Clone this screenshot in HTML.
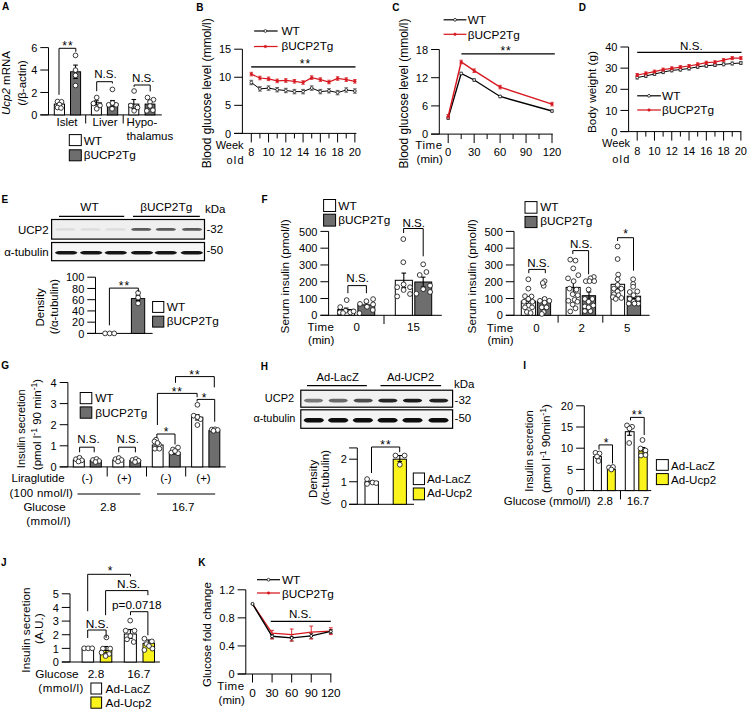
<!DOCTYPE html>
<html><head><meta charset="utf-8"><style>
html,body{margin:0;padding:0;background:#fff;}
svg{display:block;}
text{font-family:"Liberation Sans",sans-serif;}
</style></head><body>
<svg width="748" height="710" viewBox="0 0 748 710">
<defs><filter id="bl" x="-20%" y="-100%" width="140%" height="300%"><feGaussianBlur stdDeviation="0.7"/></filter></defs>
<rect x="0" y="0" width="748" height="710" fill="#fff"/>
<text x="1.90" y="9.90" font-size="10" text-anchor="start" font-weight="bold" fill="#000">A</text>
<line x1="48.50" y1="47.60" x2="48.50" y2="114.90" stroke="#000" stroke-width="1.0" />
<line x1="40.30" y1="47.60" x2="48.50" y2="47.60" stroke="#000" stroke-width="1.0" />
<text x="37.30" y="51.76" font-size="11.0" text-anchor="end" font-weight="normal" fill="#000">6</text>
<line x1="40.30" y1="70.03" x2="48.50" y2="70.03" stroke="#000" stroke-width="1.0" />
<text x="37.30" y="74.19" font-size="11.0" text-anchor="end" font-weight="normal" fill="#000">4</text>
<line x1="40.30" y1="92.47" x2="48.50" y2="92.47" stroke="#000" stroke-width="1.0" />
<text x="37.30" y="96.63" font-size="11.0" text-anchor="end" font-weight="normal" fill="#000">2</text>
<line x1="40.30" y1="114.90" x2="48.50" y2="114.90" stroke="#000" stroke-width="1.0" />
<text x="37.30" y="119.06" font-size="11.0" text-anchor="end" font-weight="normal" fill="#000">0</text>
<line x1="40.30" y1="114.90" x2="161.80" y2="114.90" stroke="#000" stroke-width="1.0" />
<line x1="85.70" y1="114.90" x2="85.70" y2="123.50" stroke="#000" stroke-width="1.0" />
<line x1="123.20" y1="114.90" x2="123.20" y2="123.50" stroke="#000" stroke-width="1.0" />
<rect x="54.30" y="104.10" width="10.20" height="10.80" fill="#fff" stroke="#000" stroke-width="1.0"/>
<rect x="70.50" y="71.80" width="10.10" height="43.10" fill="#6e6e6e" stroke="#000" stroke-width="1.0"/>
<rect x="91.40" y="102.80" width="10.00" height="12.10" fill="#fff" stroke="#000" stroke-width="1.0"/>
<rect x="107.40" y="103.50" width="10.30" height="11.40" fill="#6e6e6e" stroke="#000" stroke-width="1.0"/>
<rect x="128.80" y="104.10" width="10.00" height="10.80" fill="#fff" stroke="#000" stroke-width="1.0"/>
<rect x="145.10" y="104.10" width="9.80" height="10.80" fill="#6e6e6e" stroke="#000" stroke-width="1.0"/>
<line x1="59.40" y1="105.50" x2="59.40" y2="102.60" stroke="#000" stroke-width="1.1" />
<line x1="57.10" y1="102.60" x2="61.70" y2="102.60" stroke="#000" stroke-width="1.1" />
<line x1="57.10" y1="105.50" x2="61.70" y2="105.50" stroke="#000" stroke-width="1.1" />
<line x1="75.50" y1="78.50" x2="75.50" y2="65.10" stroke="#000" stroke-width="1.1" />
<line x1="73.20" y1="65.10" x2="77.80" y2="65.10" stroke="#000" stroke-width="1.1" />
<line x1="73.20" y1="78.50" x2="77.80" y2="78.50" stroke="#000" stroke-width="1.1" />
<line x1="96.40" y1="105.00" x2="96.40" y2="100.80" stroke="#000" stroke-width="1.1" />
<line x1="94.10" y1="100.80" x2="98.70" y2="100.80" stroke="#000" stroke-width="1.1" />
<line x1="94.10" y1="105.00" x2="98.70" y2="105.00" stroke="#000" stroke-width="1.1" />
<line x1="112.50" y1="106.50" x2="112.50" y2="100.50" stroke="#000" stroke-width="1.1" />
<line x1="110.20" y1="100.50" x2="114.80" y2="100.50" stroke="#000" stroke-width="1.1" />
<line x1="110.20" y1="106.50" x2="114.80" y2="106.50" stroke="#000" stroke-width="1.1" />
<line x1="133.80" y1="108.50" x2="133.80" y2="99.50" stroke="#000" stroke-width="1.1" />
<line x1="131.50" y1="99.50" x2="136.10" y2="99.50" stroke="#000" stroke-width="1.1" />
<line x1="131.50" y1="108.50" x2="136.10" y2="108.50" stroke="#000" stroke-width="1.1" />
<line x1="150.00" y1="107.50" x2="150.00" y2="101.20" stroke="#000" stroke-width="1.1" />
<line x1="147.70" y1="101.20" x2="152.30" y2="101.20" stroke="#000" stroke-width="1.1" />
<line x1="147.70" y1="107.50" x2="152.30" y2="107.50" stroke="#000" stroke-width="1.1" />
<circle cx="57.50" cy="101.50" r="2.35" fill="#fff" stroke="#1a1a1a" stroke-width="0.85"/>
<circle cx="61.50" cy="101.80" r="2.35" fill="#fff" stroke="#1a1a1a" stroke-width="0.85"/>
<circle cx="59.40" cy="104.50" r="2.35" fill="#fff" stroke="#1a1a1a" stroke-width="0.85"/>
<circle cx="57.50" cy="107.50" r="2.35" fill="#fff" stroke="#1a1a1a" stroke-width="0.85"/>
<circle cx="61.00" cy="108.00" r="2.35" fill="#fff" stroke="#1a1a1a" stroke-width="0.85"/>
<circle cx="75.50" cy="55.40" r="2.35" fill="#fff" stroke="#1a1a1a" stroke-width="0.85"/>
<circle cx="75.50" cy="70.10" r="2.35" fill="#fff" stroke="#1a1a1a" stroke-width="0.85"/>
<circle cx="75.50" cy="75.40" r="2.35" fill="#fff" stroke="#1a1a1a" stroke-width="0.85"/>
<circle cx="75.50" cy="85.50" r="2.35" fill="#fff" stroke="#1a1a1a" stroke-width="0.85"/>
<circle cx="96.70" cy="97.50" r="2.35" fill="#fff" stroke="#1a1a1a" stroke-width="0.85"/>
<circle cx="93.40" cy="103.50" r="2.35" fill="#fff" stroke="#1a1a1a" stroke-width="0.85"/>
<circle cx="100.00" cy="105.50" r="2.35" fill="#fff" stroke="#1a1a1a" stroke-width="0.85"/>
<circle cx="96.70" cy="108.80" r="2.35" fill="#fff" stroke="#1a1a1a" stroke-width="0.85"/>
<circle cx="112.40" cy="89.40" r="2.35" fill="#fff" stroke="#1a1a1a" stroke-width="0.85"/>
<circle cx="108.70" cy="104.80" r="2.35" fill="#fff" stroke="#1a1a1a" stroke-width="0.85"/>
<circle cx="116.10" cy="104.80" r="2.35" fill="#fff" stroke="#1a1a1a" stroke-width="0.85"/>
<circle cx="112.10" cy="108.80" r="2.35" fill="#fff" stroke="#1a1a1a" stroke-width="0.85"/>
<circle cx="112.50" cy="103.00" r="2.35" fill="#fff" stroke="#1a1a1a" stroke-width="0.85"/>
<circle cx="134.10" cy="91.00" r="2.35" fill="#fff" stroke="#1a1a1a" stroke-width="0.85"/>
<circle cx="130.80" cy="105.50" r="2.35" fill="#fff" stroke="#1a1a1a" stroke-width="0.85"/>
<circle cx="137.50" cy="107.50" r="2.35" fill="#fff" stroke="#1a1a1a" stroke-width="0.85"/>
<circle cx="134.10" cy="110.80" r="2.35" fill="#fff" stroke="#1a1a1a" stroke-width="0.85"/>
<circle cx="147.50" cy="97.50" r="2.35" fill="#fff" stroke="#1a1a1a" stroke-width="0.85"/>
<circle cx="153.50" cy="99.70" r="2.35" fill="#fff" stroke="#1a1a1a" stroke-width="0.85"/>
<circle cx="150.00" cy="102.00" r="2.35" fill="#fff" stroke="#1a1a1a" stroke-width="0.85"/>
<circle cx="146.80" cy="110.80" r="2.35" fill="#fff" stroke="#1a1a1a" stroke-width="0.85"/>
<circle cx="152.90" cy="110.20" r="2.35" fill="#fff" stroke="#1a1a1a" stroke-width="0.85"/>
<circle cx="150.00" cy="106.00" r="2.35" fill="#fff" stroke="#1a1a1a" stroke-width="0.85"/>
<polyline points="59.00,94.80 59.00,48.30 75.80,48.30 75.80,51.80" fill="none" stroke="#000" stroke-width="1.0" stroke-linejoin="miter"/>
<text x="67.90" y="49.88" font-size="12" text-anchor="middle" font-weight="normal" letter-spacing="1.0" fill="#000">**</text>
<polyline points="96.70,91.20 96.70,81.70 112.40,81.70 112.40,83.40" fill="none" stroke="#000" stroke-width="1.0" stroke-linejoin="miter"/>
<text x="105.50" y="78.00" font-size="11.6" text-anchor="middle" font-weight="normal" fill="#000">N.S.</text>
<polyline points="134.10,86.80 134.10,85.00 150.20,85.00 150.20,91.40" fill="none" stroke="#000" stroke-width="1.0" stroke-linejoin="miter"/>
<text x="143.30" y="82.00" font-size="11.6" text-anchor="middle" font-weight="normal" fill="#000">N.S.</text>
<text x="67.00" y="125.60" font-size="11.5" text-anchor="middle" font-weight="normal" fill="#000">Islet</text>
<text x="105.00" y="126.00" font-size="11.5" text-anchor="middle" font-weight="normal" fill="#000">Liver</text>
<text x="126.60" y="126.00" font-size="11.5" text-anchor="start" font-weight="normal" fill="#000">Hypo-</text>
<text x="126.60" y="140.00" font-size="11.5" text-anchor="start" font-weight="normal" fill="#000">thalamus</text>
<rect x="69.30" y="134.60" width="12.00" height="11.00" fill="#fff" stroke="#000" stroke-width="1.0"/>
<rect x="69.30" y="149.80" width="12.00" height="11.00" fill="#6e6e6e" stroke="#000" stroke-width="1.0"/>
<text x="83.70" y="144.50" font-size="11.8" text-anchor="start" font-weight="normal" fill="#000">WT</text>
<text x="83.70" y="159.30" font-size="11.8" text-anchor="start" font-weight="normal" fill="#000">βUCP2Tg</text>
<text x="10.00" y="83.00" font-size="11.5" text-anchor="middle" font-weight="normal" transform="rotate(-90 10.00 83.00)" fill="#000"><tspan font-style="italic">Ucp2</tspan> mRNA</text>
<text x="25.50" y="83.00" font-size="11.5" text-anchor="middle" font-weight="normal" transform="rotate(-90 25.50 83.00)" fill="#000">(/β-actin)</text>
<text x="196.30" y="10.70" font-size="10" text-anchor="start" font-weight="bold" fill="#000">B</text>
<line x1="242.40" y1="49.19" x2="242.40" y2="133.40" stroke="#000" stroke-width="1.0" />
<line x1="234.20" y1="49.19" x2="242.40" y2="49.19" stroke="#000" stroke-width="1.0" />
<text x="231.20" y="53.35" font-size="11.0" text-anchor="end" font-weight="normal" fill="#000">15</text>
<line x1="234.20" y1="77.26" x2="242.40" y2="77.26" stroke="#000" stroke-width="1.0" />
<text x="231.20" y="81.42" font-size="11.0" text-anchor="end" font-weight="normal" fill="#000">10</text>
<line x1="234.20" y1="105.33" x2="242.40" y2="105.33" stroke="#000" stroke-width="1.0" />
<text x="231.20" y="109.49" font-size="11.0" text-anchor="end" font-weight="normal" fill="#000">5</text>
<line x1="234.20" y1="133.40" x2="242.40" y2="133.40" stroke="#000" stroke-width="1.0" />
<text x="231.20" y="137.56" font-size="11.0" text-anchor="end" font-weight="normal" fill="#000">0</text>
<line x1="234.20" y1="133.40" x2="356.40" y2="133.40" stroke="#000" stroke-width="1.0" />
<line x1="251.30" y1="133.40" x2="251.30" y2="142.40" stroke="#000" stroke-width="1.0" />
<text x="251.30" y="156.00" font-size="11.0" text-anchor="middle" font-weight="normal" fill="#000">8</text>
<line x1="259.93" y1="133.40" x2="259.93" y2="138.40" stroke="#000" stroke-width="1.0" />
<line x1="268.56" y1="133.40" x2="268.56" y2="142.40" stroke="#000" stroke-width="1.0" />
<text x="268.56" y="156.00" font-size="11.0" text-anchor="middle" font-weight="normal" fill="#000">10</text>
<line x1="277.19" y1="133.40" x2="277.19" y2="138.40" stroke="#000" stroke-width="1.0" />
<line x1="285.82" y1="133.40" x2="285.82" y2="142.40" stroke="#000" stroke-width="1.0" />
<text x="285.82" y="156.00" font-size="11.0" text-anchor="middle" font-weight="normal" fill="#000">12</text>
<line x1="294.45" y1="133.40" x2="294.45" y2="138.40" stroke="#000" stroke-width="1.0" />
<line x1="303.08" y1="133.40" x2="303.08" y2="142.40" stroke="#000" stroke-width="1.0" />
<text x="303.08" y="156.00" font-size="11.0" text-anchor="middle" font-weight="normal" fill="#000">14</text>
<line x1="311.71" y1="133.40" x2="311.71" y2="138.40" stroke="#000" stroke-width="1.0" />
<line x1="320.34" y1="133.40" x2="320.34" y2="142.40" stroke="#000" stroke-width="1.0" />
<text x="320.34" y="156.00" font-size="11.0" text-anchor="middle" font-weight="normal" fill="#000">16</text>
<line x1="328.97" y1="133.40" x2="328.97" y2="138.40" stroke="#000" stroke-width="1.0" />
<line x1="337.60" y1="133.40" x2="337.60" y2="142.40" stroke="#000" stroke-width="1.0" />
<text x="337.60" y="156.00" font-size="11.0" text-anchor="middle" font-weight="normal" fill="#000">18</text>
<line x1="346.23" y1="133.40" x2="346.23" y2="138.40" stroke="#000" stroke-width="1.0" />
<line x1="354.86" y1="133.40" x2="354.86" y2="142.40" stroke="#000" stroke-width="1.0" />
<text x="354.86" y="156.00" font-size="11.0" text-anchor="middle" font-weight="normal" fill="#000">20</text>
<text x="243.60" y="149.00" font-size="11.0" text-anchor="end" font-weight="normal" fill="#000">Week</text>
<text x="245.00" y="163.50" font-size="11.0" text-anchor="end" font-weight="normal" letter-spacing="1.3" fill="#000">old</text>
<line x1="251.20" y1="66.90" x2="355.50" y2="66.90" stroke="#3a3a3a" stroke-width="1.6" />
<text x="305.50" y="68.28" font-size="12" text-anchor="middle" font-weight="normal" letter-spacing="1.0" fill="#000">**</text>
<line x1="251.30" y1="84.70" x2="251.30" y2="80.30" stroke="#555" stroke-width="0.9" />
<line x1="249.40" y1="80.30" x2="253.20" y2="80.30" stroke="#555" stroke-width="0.9" />
<line x1="249.40" y1="84.70" x2="253.20" y2="84.70" stroke="#555" stroke-width="0.9" />
<line x1="259.93" y1="91.10" x2="259.93" y2="86.70" stroke="#555" stroke-width="0.9" />
<line x1="258.03" y1="86.70" x2="261.83" y2="86.70" stroke="#555" stroke-width="0.9" />
<line x1="258.03" y1="91.10" x2="261.83" y2="91.10" stroke="#555" stroke-width="0.9" />
<line x1="268.56" y1="90.30" x2="268.56" y2="85.90" stroke="#555" stroke-width="0.9" />
<line x1="266.66" y1="85.90" x2="270.46" y2="85.90" stroke="#555" stroke-width="0.9" />
<line x1="266.66" y1="90.30" x2="270.46" y2="90.30" stroke="#555" stroke-width="0.9" />
<line x1="277.19" y1="91.90" x2="277.19" y2="87.50" stroke="#555" stroke-width="0.9" />
<line x1="275.29" y1="87.50" x2="279.09" y2="87.50" stroke="#555" stroke-width="0.9" />
<line x1="275.29" y1="91.90" x2="279.09" y2="91.90" stroke="#555" stroke-width="0.9" />
<line x1="285.82" y1="92.70" x2="285.82" y2="88.30" stroke="#555" stroke-width="0.9" />
<line x1="283.92" y1="88.30" x2="287.72" y2="88.30" stroke="#555" stroke-width="0.9" />
<line x1="283.92" y1="92.70" x2="287.72" y2="92.70" stroke="#555" stroke-width="0.9" />
<line x1="294.45" y1="93.80" x2="294.45" y2="89.40" stroke="#555" stroke-width="0.9" />
<line x1="292.55" y1="89.40" x2="296.35" y2="89.40" stroke="#555" stroke-width="0.9" />
<line x1="292.55" y1="93.80" x2="296.35" y2="93.80" stroke="#555" stroke-width="0.9" />
<line x1="303.08" y1="93.80" x2="303.08" y2="89.40" stroke="#555" stroke-width="0.9" />
<line x1="301.18" y1="89.40" x2="304.98" y2="89.40" stroke="#555" stroke-width="0.9" />
<line x1="301.18" y1="93.80" x2="304.98" y2="93.80" stroke="#555" stroke-width="0.9" />
<line x1="311.71" y1="90.30" x2="311.71" y2="85.90" stroke="#555" stroke-width="0.9" />
<line x1="309.81" y1="85.90" x2="313.61" y2="85.90" stroke="#555" stroke-width="0.9" />
<line x1="309.81" y1="90.30" x2="313.61" y2="90.30" stroke="#555" stroke-width="0.9" />
<line x1="320.34" y1="93.80" x2="320.34" y2="89.40" stroke="#555" stroke-width="0.9" />
<line x1="318.44" y1="89.40" x2="322.24" y2="89.40" stroke="#555" stroke-width="0.9" />
<line x1="318.44" y1="93.80" x2="322.24" y2="93.80" stroke="#555" stroke-width="0.9" />
<line x1="328.97" y1="93.00" x2="328.97" y2="88.60" stroke="#555" stroke-width="0.9" />
<line x1="327.07" y1="88.60" x2="330.87" y2="88.60" stroke="#555" stroke-width="0.9" />
<line x1="327.07" y1="93.00" x2="330.87" y2="93.00" stroke="#555" stroke-width="0.9" />
<line x1="337.60" y1="94.80" x2="337.60" y2="90.40" stroke="#555" stroke-width="0.9" />
<line x1="335.70" y1="90.40" x2="339.50" y2="90.40" stroke="#555" stroke-width="0.9" />
<line x1="335.70" y1="94.80" x2="339.50" y2="94.80" stroke="#555" stroke-width="0.9" />
<line x1="346.23" y1="92.20" x2="346.23" y2="87.80" stroke="#555" stroke-width="0.9" />
<line x1="344.33" y1="87.80" x2="348.13" y2="87.80" stroke="#555" stroke-width="0.9" />
<line x1="344.33" y1="92.20" x2="348.13" y2="92.20" stroke="#555" stroke-width="0.9" />
<line x1="354.86" y1="93.20" x2="354.86" y2="88.80" stroke="#555" stroke-width="0.9" />
<line x1="352.96" y1="88.80" x2="356.76" y2="88.80" stroke="#555" stroke-width="0.9" />
<line x1="352.96" y1="93.20" x2="356.76" y2="93.20" stroke="#555" stroke-width="0.9" />
<polyline points="251.30,82.50 259.93,88.90 268.56,88.10 277.19,89.70 285.82,90.50 294.45,91.60 303.08,91.60 311.71,88.10 320.34,91.60 328.97,90.80 337.60,92.60 346.23,90.00 354.86,91.00" fill="none" stroke="#000" stroke-width="1.0" stroke-linejoin="miter"/>
<circle cx="251.30" cy="82.50" r="1.4" fill="#fff" stroke="#000" stroke-width="0.7"/>
<circle cx="259.93" cy="88.90" r="1.4" fill="#fff" stroke="#000" stroke-width="0.7"/>
<circle cx="268.56" cy="88.10" r="1.4" fill="#fff" stroke="#000" stroke-width="0.7"/>
<circle cx="277.19" cy="89.70" r="1.4" fill="#fff" stroke="#000" stroke-width="0.7"/>
<circle cx="285.82" cy="90.50" r="1.4" fill="#fff" stroke="#000" stroke-width="0.7"/>
<circle cx="294.45" cy="91.60" r="1.4" fill="#fff" stroke="#000" stroke-width="0.7"/>
<circle cx="303.08" cy="91.60" r="1.4" fill="#fff" stroke="#000" stroke-width="0.7"/>
<circle cx="311.71" cy="88.10" r="1.4" fill="#fff" stroke="#000" stroke-width="0.7"/>
<circle cx="320.34" cy="91.60" r="1.4" fill="#fff" stroke="#000" stroke-width="0.7"/>
<circle cx="328.97" cy="90.80" r="1.4" fill="#fff" stroke="#000" stroke-width="0.7"/>
<circle cx="337.60" cy="92.60" r="1.4" fill="#fff" stroke="#000" stroke-width="0.7"/>
<circle cx="346.23" cy="90.00" r="1.4" fill="#fff" stroke="#000" stroke-width="0.7"/>
<circle cx="354.86" cy="91.00" r="1.4" fill="#fff" stroke="#000" stroke-width="0.7"/>
<line x1="251.30" y1="75.90" x2="251.30" y2="72.30" stroke="#d71920" stroke-width="0.8" />
<line x1="249.55" y1="72.30" x2="253.05" y2="72.30" stroke="#d71920" stroke-width="0.8" />
<line x1="249.55" y1="75.90" x2="253.05" y2="75.90" stroke="#d71920" stroke-width="0.8" />
<line x1="259.93" y1="79.80" x2="259.93" y2="76.20" stroke="#d71920" stroke-width="0.8" />
<line x1="258.18" y1="76.20" x2="261.68" y2="76.20" stroke="#d71920" stroke-width="0.8" />
<line x1="258.18" y1="79.80" x2="261.68" y2="79.80" stroke="#d71920" stroke-width="0.8" />
<line x1="268.56" y1="80.60" x2="268.56" y2="77.00" stroke="#d71920" stroke-width="0.8" />
<line x1="266.81" y1="77.00" x2="270.31" y2="77.00" stroke="#d71920" stroke-width="0.8" />
<line x1="266.81" y1="80.60" x2="270.31" y2="80.60" stroke="#d71920" stroke-width="0.8" />
<line x1="277.19" y1="82.70" x2="277.19" y2="79.10" stroke="#d71920" stroke-width="0.8" />
<line x1="275.44" y1="79.10" x2="278.94" y2="79.10" stroke="#d71920" stroke-width="0.8" />
<line x1="275.44" y1="82.70" x2="278.94" y2="82.70" stroke="#d71920" stroke-width="0.8" />
<line x1="285.82" y1="82.30" x2="285.82" y2="78.70" stroke="#d71920" stroke-width="0.8" />
<line x1="284.07" y1="78.70" x2="287.57" y2="78.70" stroke="#d71920" stroke-width="0.8" />
<line x1="284.07" y1="82.30" x2="287.57" y2="82.30" stroke="#d71920" stroke-width="0.8" />
<line x1="294.45" y1="83.10" x2="294.45" y2="79.50" stroke="#d71920" stroke-width="0.8" />
<line x1="292.70" y1="79.50" x2="296.20" y2="79.50" stroke="#d71920" stroke-width="0.8" />
<line x1="292.70" y1="83.10" x2="296.20" y2="83.10" stroke="#d71920" stroke-width="0.8" />
<line x1="303.08" y1="84.30" x2="303.08" y2="80.70" stroke="#d71920" stroke-width="0.8" />
<line x1="301.33" y1="80.70" x2="304.83" y2="80.70" stroke="#d71920" stroke-width="0.8" />
<line x1="301.33" y1="84.30" x2="304.83" y2="84.30" stroke="#d71920" stroke-width="0.8" />
<line x1="311.71" y1="79.40" x2="311.71" y2="75.80" stroke="#d71920" stroke-width="0.8" />
<line x1="309.96" y1="75.80" x2="313.46" y2="75.80" stroke="#d71920" stroke-width="0.8" />
<line x1="309.96" y1="79.40" x2="313.46" y2="79.40" stroke="#d71920" stroke-width="0.8" />
<line x1="320.34" y1="81.40" x2="320.34" y2="77.80" stroke="#d71920" stroke-width="0.8" />
<line x1="318.59" y1="77.80" x2="322.09" y2="77.80" stroke="#d71920" stroke-width="0.8" />
<line x1="318.59" y1="81.40" x2="322.09" y2="81.40" stroke="#d71920" stroke-width="0.8" />
<line x1="328.97" y1="83.80" x2="328.97" y2="80.20" stroke="#d71920" stroke-width="0.8" />
<line x1="327.22" y1="80.20" x2="330.72" y2="80.20" stroke="#d71920" stroke-width="0.8" />
<line x1="327.22" y1="83.80" x2="330.72" y2="83.80" stroke="#d71920" stroke-width="0.8" />
<line x1="337.60" y1="80.30" x2="337.60" y2="76.70" stroke="#d71920" stroke-width="0.8" />
<line x1="335.85" y1="76.70" x2="339.35" y2="76.70" stroke="#d71920" stroke-width="0.8" />
<line x1="335.85" y1="80.30" x2="339.35" y2="80.30" stroke="#d71920" stroke-width="0.8" />
<line x1="346.23" y1="81.40" x2="346.23" y2="77.80" stroke="#d71920" stroke-width="0.8" />
<line x1="344.48" y1="77.80" x2="347.98" y2="77.80" stroke="#d71920" stroke-width="0.8" />
<line x1="344.48" y1="81.40" x2="347.98" y2="81.40" stroke="#d71920" stroke-width="0.8" />
<line x1="354.86" y1="83.10" x2="354.86" y2="79.50" stroke="#d71920" stroke-width="0.8" />
<line x1="353.11" y1="79.50" x2="356.61" y2="79.50" stroke="#d71920" stroke-width="0.8" />
<line x1="353.11" y1="83.10" x2="356.61" y2="83.10" stroke="#d71920" stroke-width="0.8" />
<polyline points="251.30,74.10 259.93,78.00 268.56,78.80 277.19,80.90 285.82,80.50 294.45,81.30 303.08,82.50 311.71,77.60 320.34,79.60 328.97,82.00 337.60,78.50 346.23,79.60 354.86,81.30" fill="none" stroke="#d71920" stroke-width="1.25" stroke-linejoin="miter"/>
<circle cx="251.30" cy="74.10" r="1.3" fill="#d71920" stroke="#d71920" stroke-width="0.5"/>
<circle cx="259.93" cy="78.00" r="1.3" fill="#d71920" stroke="#d71920" stroke-width="0.5"/>
<circle cx="268.56" cy="78.80" r="1.3" fill="#d71920" stroke="#d71920" stroke-width="0.5"/>
<circle cx="277.19" cy="80.90" r="1.3" fill="#d71920" stroke="#d71920" stroke-width="0.5"/>
<circle cx="285.82" cy="80.50" r="1.3" fill="#d71920" stroke="#d71920" stroke-width="0.5"/>
<circle cx="294.45" cy="81.30" r="1.3" fill="#d71920" stroke="#d71920" stroke-width="0.5"/>
<circle cx="303.08" cy="82.50" r="1.3" fill="#d71920" stroke="#d71920" stroke-width="0.5"/>
<circle cx="311.71" cy="77.60" r="1.3" fill="#d71920" stroke="#d71920" stroke-width="0.5"/>
<circle cx="320.34" cy="79.60" r="1.3" fill="#d71920" stroke="#d71920" stroke-width="0.5"/>
<circle cx="328.97" cy="82.00" r="1.3" fill="#d71920" stroke="#d71920" stroke-width="0.5"/>
<circle cx="337.60" cy="78.50" r="1.3" fill="#d71920" stroke="#d71920" stroke-width="0.5"/>
<circle cx="346.23" cy="79.60" r="1.3" fill="#d71920" stroke="#d71920" stroke-width="0.5"/>
<circle cx="354.86" cy="81.30" r="1.3" fill="#d71920" stroke="#d71920" stroke-width="0.5"/>
<line x1="254.00" y1="31.00" x2="277.60" y2="31.00" stroke="#000" stroke-width="1.2" />
<circle cx="265.40" cy="31.00" r="1.4" fill="#fff" stroke="#000" stroke-width="0.7"/>
<line x1="254.00" y1="46.50" x2="277.60" y2="46.50" stroke="#d71920" stroke-width="1.25" />
<circle cx="265.40" cy="46.50" r="1.3" fill="#d71920" stroke="#d71920" stroke-width="0.5"/>
<text x="281.40" y="34.90" font-size="11.8" text-anchor="start" font-weight="normal" fill="#000">WT</text>
<text x="281.40" y="49.60" font-size="11.8" text-anchor="start" font-weight="normal" fill="#000">βUCP2Tg</text>
<text x="210.80" y="93.30" font-size="12" text-anchor="middle" font-weight="normal" transform="rotate(-90 210.80 93.30)" fill="#000">Blood glucose level (mmol/l)</text>
<text x="392.30" y="10.70" font-size="10" text-anchor="start" font-weight="bold" fill="#000">C</text>
<line x1="439.30" y1="49.50" x2="439.30" y2="134.10" stroke="#000" stroke-width="1.0" />
<line x1="431.10" y1="49.50" x2="439.30" y2="49.50" stroke="#000" stroke-width="1.0" />
<text x="428.10" y="53.66" font-size="11.0" text-anchor="end" font-weight="normal" fill="#000">18</text>
<line x1="431.10" y1="77.70" x2="439.30" y2="77.70" stroke="#000" stroke-width="1.0" />
<text x="428.10" y="81.86" font-size="11.0" text-anchor="end" font-weight="normal" fill="#000">12</text>
<line x1="431.10" y1="105.90" x2="439.30" y2="105.90" stroke="#000" stroke-width="1.0" />
<text x="428.10" y="110.06" font-size="11.0" text-anchor="end" font-weight="normal" fill="#000">6</text>
<line x1="431.10" y1="134.10" x2="439.30" y2="134.10" stroke="#000" stroke-width="1.0" />
<text x="428.10" y="138.26" font-size="11.0" text-anchor="end" font-weight="normal" fill="#000">0</text>
<line x1="431.10" y1="134.10" x2="552.80" y2="134.10" stroke="#000" stroke-width="1.0" />
<line x1="448.20" y1="134.10" x2="448.20" y2="143.10" stroke="#000" stroke-width="1.0" />
<text x="448.20" y="156.20" font-size="11.2" text-anchor="middle" font-weight="normal" fill="#000">0</text>
<line x1="461.18" y1="134.10" x2="461.18" y2="139.10" stroke="#000" stroke-width="1.0" />
<line x1="474.15" y1="134.10" x2="474.15" y2="143.10" stroke="#000" stroke-width="1.0" />
<text x="474.15" y="156.20" font-size="11.2" text-anchor="middle" font-weight="normal" fill="#000">30</text>
<line x1="487.12" y1="134.10" x2="487.12" y2="139.10" stroke="#000" stroke-width="1.0" />
<line x1="500.10" y1="134.10" x2="500.10" y2="143.10" stroke="#000" stroke-width="1.0" />
<text x="500.10" y="156.20" font-size="11.2" text-anchor="middle" font-weight="normal" fill="#000">60</text>
<line x1="513.08" y1="134.10" x2="513.08" y2="139.10" stroke="#000" stroke-width="1.0" />
<line x1="526.05" y1="134.10" x2="526.05" y2="143.10" stroke="#000" stroke-width="1.0" />
<text x="526.05" y="156.20" font-size="11.2" text-anchor="middle" font-weight="normal" fill="#000">90</text>
<line x1="539.02" y1="134.10" x2="539.02" y2="139.10" stroke="#000" stroke-width="1.0" />
<line x1="552.00" y1="134.10" x2="552.00" y2="143.10" stroke="#000" stroke-width="1.0" />
<text x="552.00" y="156.20" font-size="11.2" text-anchor="middle" font-weight="normal" fill="#000">120</text>
<text x="442.80" y="148.60" font-size="11.5" text-anchor="end" font-weight="normal" letter-spacing="0.6" fill="#000">Time</text>
<text x="442.80" y="162.50" font-size="11.5" text-anchor="end" font-weight="normal" fill="#000">(min)</text>
<line x1="461.40" y1="53.80" x2="554.80" y2="53.80" stroke="#000" stroke-width="1.2" />
<text x="506.10" y="54.88" font-size="12" text-anchor="middle" font-weight="normal" letter-spacing="1.0" fill="#000">**</text>
<line x1="448.20" y1="119.30" x2="448.20" y2="116.90" stroke="#333" stroke-width="0.8" />
<line x1="446.45" y1="116.90" x2="449.95" y2="116.90" stroke="#333" stroke-width="0.8" />
<line x1="446.45" y1="119.30" x2="449.95" y2="119.30" stroke="#333" stroke-width="0.8" />
<line x1="461.18" y1="74.70" x2="461.18" y2="72.30" stroke="#333" stroke-width="0.8" />
<line x1="459.43" y1="72.30" x2="462.93" y2="72.30" stroke="#333" stroke-width="0.8" />
<line x1="459.43" y1="74.70" x2="462.93" y2="74.70" stroke="#333" stroke-width="0.8" />
<line x1="474.15" y1="81.20" x2="474.15" y2="78.80" stroke="#333" stroke-width="0.8" />
<line x1="472.40" y1="78.80" x2="475.90" y2="78.80" stroke="#333" stroke-width="0.8" />
<line x1="472.40" y1="81.20" x2="475.90" y2="81.20" stroke="#333" stroke-width="0.8" />
<line x1="500.10" y1="97.70" x2="500.10" y2="95.30" stroke="#333" stroke-width="0.8" />
<line x1="498.35" y1="95.30" x2="501.85" y2="95.30" stroke="#333" stroke-width="0.8" />
<line x1="498.35" y1="97.70" x2="501.85" y2="97.70" stroke="#333" stroke-width="0.8" />
<line x1="552.00" y1="112.20" x2="552.00" y2="109.80" stroke="#333" stroke-width="0.8" />
<line x1="550.25" y1="109.80" x2="553.75" y2="109.80" stroke="#333" stroke-width="0.8" />
<line x1="550.25" y1="112.20" x2="553.75" y2="112.20" stroke="#333" stroke-width="0.8" />
<polyline points="448.20,118.10 461.18,73.50 474.15,80.00 500.10,96.50 552.00,111.00" fill="none" stroke="#000" stroke-width="1.35" stroke-linejoin="miter"/>
<circle cx="448.20" cy="118.10" r="1.4" fill="#fff" stroke="#000" stroke-width="0.7"/>
<circle cx="461.18" cy="73.50" r="1.4" fill="#fff" stroke="#000" stroke-width="0.7"/>
<circle cx="474.15" cy="80.00" r="1.4" fill="#fff" stroke="#000" stroke-width="0.7"/>
<circle cx="500.10" cy="96.50" r="1.4" fill="#fff" stroke="#000" stroke-width="0.7"/>
<circle cx="552.00" cy="111.00" r="1.4" fill="#fff" stroke="#000" stroke-width="0.7"/>
<line x1="448.20" y1="118.10" x2="448.20" y2="114.50" stroke="#d71920" stroke-width="0.8" />
<line x1="446.45" y1="114.50" x2="449.95" y2="114.50" stroke="#d71920" stroke-width="0.8" />
<line x1="446.45" y1="118.10" x2="449.95" y2="118.10" stroke="#d71920" stroke-width="0.8" />
<line x1="461.18" y1="63.80" x2="461.18" y2="60.20" stroke="#d71920" stroke-width="0.8" />
<line x1="459.43" y1="60.20" x2="462.93" y2="60.20" stroke="#d71920" stroke-width="0.8" />
<line x1="459.43" y1="63.80" x2="462.93" y2="63.80" stroke="#d71920" stroke-width="0.8" />
<line x1="474.15" y1="72.50" x2="474.15" y2="68.90" stroke="#d71920" stroke-width="0.8" />
<line x1="472.40" y1="68.90" x2="475.90" y2="68.90" stroke="#d71920" stroke-width="0.8" />
<line x1="472.40" y1="72.50" x2="475.90" y2="72.50" stroke="#d71920" stroke-width="0.8" />
<line x1="500.10" y1="88.90" x2="500.10" y2="85.30" stroke="#d71920" stroke-width="0.8" />
<line x1="498.35" y1="85.30" x2="501.85" y2="85.30" stroke="#d71920" stroke-width="0.8" />
<line x1="498.35" y1="88.90" x2="501.85" y2="88.90" stroke="#d71920" stroke-width="0.8" />
<line x1="552.00" y1="105.90" x2="552.00" y2="102.30" stroke="#d71920" stroke-width="0.8" />
<line x1="550.25" y1="102.30" x2="553.75" y2="102.30" stroke="#d71920" stroke-width="0.8" />
<line x1="550.25" y1="105.90" x2="553.75" y2="105.90" stroke="#d71920" stroke-width="0.8" />
<polyline points="448.20,116.30 461.18,62.00 474.15,70.70 500.10,87.10 552.00,104.10" fill="none" stroke="#d71920" stroke-width="1.45" stroke-linejoin="miter"/>
<circle cx="448.20" cy="116.30" r="1.3" fill="#d71920" stroke="#d71920" stroke-width="0.5"/>
<circle cx="461.18" cy="62.00" r="1.3" fill="#d71920" stroke="#d71920" stroke-width="0.5"/>
<circle cx="474.15" cy="70.70" r="1.3" fill="#d71920" stroke="#d71920" stroke-width="0.5"/>
<circle cx="500.10" cy="87.10" r="1.3" fill="#d71920" stroke="#d71920" stroke-width="0.5"/>
<circle cx="552.00" cy="104.10" r="1.3" fill="#d71920" stroke="#d71920" stroke-width="0.5"/>
<line x1="443.60" y1="19.80" x2="466.40" y2="19.80" stroke="#000" stroke-width="1.2" />
<circle cx="455.00" cy="19.80" r="1.4" fill="#fff" stroke="#000" stroke-width="0.7"/>
<line x1="443.60" y1="34.30" x2="466.40" y2="34.30" stroke="#d71920" stroke-width="1.25" />
<circle cx="455.00" cy="34.30" r="1.3" fill="#d71920" stroke="#d71920" stroke-width="0.5"/>
<text x="467.70" y="24.20" font-size="11.8" text-anchor="start" font-weight="normal" fill="#000">WT</text>
<text x="467.70" y="38.80" font-size="11.8" text-anchor="start" font-weight="normal" fill="#000">βUCP2Tg</text>
<text x="408.20" y="93.50" font-size="12" text-anchor="middle" font-weight="normal" transform="rotate(-90 408.20 93.50)" fill="#000">Blood glucose level (mmol/l)</text>
<text x="578.80" y="10.70" font-size="10" text-anchor="start" font-weight="bold" fill="#000">D</text>
<line x1="628.60" y1="47.00" x2="628.60" y2="131.60" stroke="#000" stroke-width="1.0" />
<line x1="620.40" y1="47.00" x2="628.60" y2="47.00" stroke="#000" stroke-width="1.0" />
<text x="617.40" y="51.16" font-size="11.0" text-anchor="end" font-weight="normal" fill="#000">40</text>
<line x1="620.40" y1="68.15" x2="628.60" y2="68.15" stroke="#000" stroke-width="1.0" />
<text x="617.40" y="72.31" font-size="11.0" text-anchor="end" font-weight="normal" fill="#000">30</text>
<line x1="620.40" y1="89.30" x2="628.60" y2="89.30" stroke="#000" stroke-width="1.0" />
<text x="617.40" y="93.46" font-size="11.0" text-anchor="end" font-weight="normal" fill="#000">20</text>
<line x1="620.40" y1="110.45" x2="628.60" y2="110.45" stroke="#000" stroke-width="1.0" />
<text x="617.40" y="114.61" font-size="11.0" text-anchor="end" font-weight="normal" fill="#000">10</text>
<line x1="620.40" y1="131.60" x2="628.60" y2="131.60" stroke="#000" stroke-width="1.0" />
<text x="617.40" y="135.76" font-size="11.0" text-anchor="end" font-weight="normal" fill="#000">0</text>
<line x1="620.40" y1="131.60" x2="741.40" y2="131.60" stroke="#000" stroke-width="1.0" />
<line x1="637.20" y1="131.60" x2="637.20" y2="140.60" stroke="#000" stroke-width="1.0" />
<text x="637.20" y="155.00" font-size="11.0" text-anchor="middle" font-weight="normal" fill="#000">8</text>
<line x1="645.84" y1="131.60" x2="645.84" y2="136.60" stroke="#000" stroke-width="1.0" />
<line x1="654.48" y1="131.60" x2="654.48" y2="140.60" stroke="#000" stroke-width="1.0" />
<text x="654.48" y="155.00" font-size="11.0" text-anchor="middle" font-weight="normal" fill="#000">10</text>
<line x1="663.12" y1="131.60" x2="663.12" y2="136.60" stroke="#000" stroke-width="1.0" />
<line x1="671.76" y1="131.60" x2="671.76" y2="140.60" stroke="#000" stroke-width="1.0" />
<text x="671.76" y="155.00" font-size="11.0" text-anchor="middle" font-weight="normal" fill="#000">12</text>
<line x1="680.40" y1="131.60" x2="680.40" y2="136.60" stroke="#000" stroke-width="1.0" />
<line x1="689.04" y1="131.60" x2="689.04" y2="140.60" stroke="#000" stroke-width="1.0" />
<text x="689.04" y="155.00" font-size="11.0" text-anchor="middle" font-weight="normal" fill="#000">14</text>
<line x1="697.68" y1="131.60" x2="697.68" y2="136.60" stroke="#000" stroke-width="1.0" />
<line x1="706.32" y1="131.60" x2="706.32" y2="140.60" stroke="#000" stroke-width="1.0" />
<text x="706.32" y="155.00" font-size="11.0" text-anchor="middle" font-weight="normal" fill="#000">16</text>
<line x1="714.96" y1="131.60" x2="714.96" y2="136.60" stroke="#000" stroke-width="1.0" />
<line x1="723.60" y1="131.60" x2="723.60" y2="140.60" stroke="#000" stroke-width="1.0" />
<text x="723.60" y="155.00" font-size="11.0" text-anchor="middle" font-weight="normal" fill="#000">18</text>
<line x1="732.24" y1="131.60" x2="732.24" y2="136.60" stroke="#000" stroke-width="1.0" />
<line x1="740.88" y1="131.60" x2="740.88" y2="140.60" stroke="#000" stroke-width="1.0" />
<text x="740.88" y="155.00" font-size="11.0" text-anchor="middle" font-weight="normal" fill="#000">20</text>
<text x="630.00" y="147.30" font-size="11.0" text-anchor="end" font-weight="normal" fill="#000">Week</text>
<text x="630.80" y="162.50" font-size="11.0" text-anchor="end" font-weight="normal" letter-spacing="1.3" fill="#000">old</text>
<line x1="637.20" y1="52.30" x2="741.50" y2="52.30" stroke="#000" stroke-width="1.2" />
<text x="691.40" y="49.50" font-size="11.6" text-anchor="middle" font-weight="normal" fill="#000">N.S.</text>
<line x1="637.20" y1="79.00" x2="637.20" y2="76.00" stroke="#333" stroke-width="0.8" />
<line x1="635.45" y1="76.00" x2="638.95" y2="76.00" stroke="#333" stroke-width="0.8" />
<line x1="635.45" y1="79.00" x2="638.95" y2="79.00" stroke="#333" stroke-width="0.8" />
<line x1="645.84" y1="77.40" x2="645.84" y2="74.40" stroke="#333" stroke-width="0.8" />
<line x1="644.09" y1="74.40" x2="647.59" y2="74.40" stroke="#333" stroke-width="0.8" />
<line x1="644.09" y1="77.40" x2="647.59" y2="77.40" stroke="#333" stroke-width="0.8" />
<line x1="654.48" y1="75.50" x2="654.48" y2="72.50" stroke="#333" stroke-width="0.8" />
<line x1="652.73" y1="72.50" x2="656.23" y2="72.50" stroke="#333" stroke-width="0.8" />
<line x1="652.73" y1="75.50" x2="656.23" y2="75.50" stroke="#333" stroke-width="0.8" />
<line x1="663.12" y1="73.60" x2="663.12" y2="70.60" stroke="#333" stroke-width="0.8" />
<line x1="661.37" y1="70.60" x2="664.87" y2="70.60" stroke="#333" stroke-width="0.8" />
<line x1="661.37" y1="73.60" x2="664.87" y2="73.60" stroke="#333" stroke-width="0.8" />
<line x1="671.76" y1="71.90" x2="671.76" y2="68.90" stroke="#333" stroke-width="0.8" />
<line x1="670.01" y1="68.90" x2="673.51" y2="68.90" stroke="#333" stroke-width="0.8" />
<line x1="670.01" y1="71.90" x2="673.51" y2="71.90" stroke="#333" stroke-width="0.8" />
<line x1="680.40" y1="71.10" x2="680.40" y2="68.10" stroke="#333" stroke-width="0.8" />
<line x1="678.65" y1="68.10" x2="682.15" y2="68.10" stroke="#333" stroke-width="0.8" />
<line x1="678.65" y1="71.10" x2="682.15" y2="71.10" stroke="#333" stroke-width="0.8" />
<line x1="689.04" y1="70.00" x2="689.04" y2="67.00" stroke="#333" stroke-width="0.8" />
<line x1="687.29" y1="67.00" x2="690.79" y2="67.00" stroke="#333" stroke-width="0.8" />
<line x1="687.29" y1="70.00" x2="690.79" y2="70.00" stroke="#333" stroke-width="0.8" />
<line x1="697.68" y1="68.30" x2="697.68" y2="65.30" stroke="#333" stroke-width="0.8" />
<line x1="695.93" y1="65.30" x2="699.43" y2="65.30" stroke="#333" stroke-width="0.8" />
<line x1="695.93" y1="68.30" x2="699.43" y2="68.30" stroke="#333" stroke-width="0.8" />
<line x1="706.32" y1="67.30" x2="706.32" y2="64.30" stroke="#333" stroke-width="0.8" />
<line x1="704.57" y1="64.30" x2="708.07" y2="64.30" stroke="#333" stroke-width="0.8" />
<line x1="704.57" y1="67.30" x2="708.07" y2="67.30" stroke="#333" stroke-width="0.8" />
<line x1="714.96" y1="66.50" x2="714.96" y2="63.50" stroke="#333" stroke-width="0.8" />
<line x1="713.21" y1="63.50" x2="716.71" y2="63.50" stroke="#333" stroke-width="0.8" />
<line x1="713.21" y1="66.50" x2="716.71" y2="66.50" stroke="#333" stroke-width="0.8" />
<line x1="723.60" y1="65.80" x2="723.60" y2="62.80" stroke="#333" stroke-width="0.8" />
<line x1="721.85" y1="62.80" x2="725.35" y2="62.80" stroke="#333" stroke-width="0.8" />
<line x1="721.85" y1="65.80" x2="725.35" y2="65.80" stroke="#333" stroke-width="0.8" />
<line x1="732.24" y1="65.00" x2="732.24" y2="62.00" stroke="#333" stroke-width="0.8" />
<line x1="730.49" y1="62.00" x2="733.99" y2="62.00" stroke="#333" stroke-width="0.8" />
<line x1="730.49" y1="65.00" x2="733.99" y2="65.00" stroke="#333" stroke-width="0.8" />
<line x1="740.88" y1="64.50" x2="740.88" y2="61.50" stroke="#333" stroke-width="0.8" />
<line x1="739.13" y1="61.50" x2="742.63" y2="61.50" stroke="#333" stroke-width="0.8" />
<line x1="739.13" y1="64.50" x2="742.63" y2="64.50" stroke="#333" stroke-width="0.8" />
<polyline points="637.20,77.50 645.84,75.90 654.48,74.00 663.12,72.10 671.76,70.40 680.40,69.60 689.04,68.50 697.68,66.80 706.32,65.80 714.96,65.00 723.60,64.30 732.24,63.50 740.88,63.00" fill="none" stroke="#000" stroke-width="1.0" stroke-linejoin="miter"/>
<circle cx="637.20" cy="77.50" r="1.4" fill="#fff" stroke="#000" stroke-width="0.7"/>
<circle cx="645.84" cy="75.90" r="1.4" fill="#fff" stroke="#000" stroke-width="0.7"/>
<circle cx="654.48" cy="74.00" r="1.4" fill="#fff" stroke="#000" stroke-width="0.7"/>
<circle cx="663.12" cy="72.10" r="1.4" fill="#fff" stroke="#000" stroke-width="0.7"/>
<circle cx="671.76" cy="70.40" r="1.4" fill="#fff" stroke="#000" stroke-width="0.7"/>
<circle cx="680.40" cy="69.60" r="1.4" fill="#fff" stroke="#000" stroke-width="0.7"/>
<circle cx="689.04" cy="68.50" r="1.4" fill="#fff" stroke="#000" stroke-width="0.7"/>
<circle cx="697.68" cy="66.80" r="1.4" fill="#fff" stroke="#000" stroke-width="0.7"/>
<circle cx="706.32" cy="65.80" r="1.4" fill="#fff" stroke="#000" stroke-width="0.7"/>
<circle cx="714.96" cy="65.00" r="1.4" fill="#fff" stroke="#000" stroke-width="0.7"/>
<circle cx="723.60" cy="64.30" r="1.4" fill="#fff" stroke="#000" stroke-width="0.7"/>
<circle cx="732.24" cy="63.50" r="1.4" fill="#fff" stroke="#000" stroke-width="0.7"/>
<circle cx="740.88" cy="63.00" r="1.4" fill="#fff" stroke="#000" stroke-width="0.7"/>
<line x1="637.20" y1="76.50" x2="637.20" y2="73.50" stroke="#d71920" stroke-width="0.8" />
<line x1="635.45" y1="73.50" x2="638.95" y2="73.50" stroke="#d71920" stroke-width="0.8" />
<line x1="635.45" y1="76.50" x2="638.95" y2="76.50" stroke="#d71920" stroke-width="0.8" />
<line x1="645.84" y1="74.90" x2="645.84" y2="71.90" stroke="#d71920" stroke-width="0.8" />
<line x1="644.09" y1="71.90" x2="647.59" y2="71.90" stroke="#d71920" stroke-width="0.8" />
<line x1="644.09" y1="74.90" x2="647.59" y2="74.90" stroke="#d71920" stroke-width="0.8" />
<line x1="654.48" y1="73.10" x2="654.48" y2="70.10" stroke="#d71920" stroke-width="0.8" />
<line x1="652.73" y1="70.10" x2="656.23" y2="70.10" stroke="#d71920" stroke-width="0.8" />
<line x1="652.73" y1="73.10" x2="656.23" y2="73.10" stroke="#d71920" stroke-width="0.8" />
<line x1="663.12" y1="71.10" x2="663.12" y2="68.10" stroke="#d71920" stroke-width="0.8" />
<line x1="661.37" y1="68.10" x2="664.87" y2="68.10" stroke="#d71920" stroke-width="0.8" />
<line x1="661.37" y1="71.10" x2="664.87" y2="71.10" stroke="#d71920" stroke-width="0.8" />
<line x1="671.76" y1="69.80" x2="671.76" y2="66.80" stroke="#d71920" stroke-width="0.8" />
<line x1="670.01" y1="66.80" x2="673.51" y2="66.80" stroke="#d71920" stroke-width="0.8" />
<line x1="670.01" y1="69.80" x2="673.51" y2="69.80" stroke="#d71920" stroke-width="0.8" />
<line x1="680.40" y1="68.60" x2="680.40" y2="65.60" stroke="#d71920" stroke-width="0.8" />
<line x1="678.65" y1="65.60" x2="682.15" y2="65.60" stroke="#d71920" stroke-width="0.8" />
<line x1="678.65" y1="68.60" x2="682.15" y2="68.60" stroke="#d71920" stroke-width="0.8" />
<line x1="689.04" y1="67.50" x2="689.04" y2="64.50" stroke="#d71920" stroke-width="0.8" />
<line x1="687.29" y1="64.50" x2="690.79" y2="64.50" stroke="#d71920" stroke-width="0.8" />
<line x1="687.29" y1="67.50" x2="690.79" y2="67.50" stroke="#d71920" stroke-width="0.8" />
<line x1="697.68" y1="65.80" x2="697.68" y2="62.80" stroke="#d71920" stroke-width="0.8" />
<line x1="695.93" y1="62.80" x2="699.43" y2="62.80" stroke="#d71920" stroke-width="0.8" />
<line x1="695.93" y1="65.80" x2="699.43" y2="65.80" stroke="#d71920" stroke-width="0.8" />
<line x1="706.32" y1="64.20" x2="706.32" y2="61.20" stroke="#d71920" stroke-width="0.8" />
<line x1="704.57" y1="61.20" x2="708.07" y2="61.20" stroke="#d71920" stroke-width="0.8" />
<line x1="704.57" y1="64.20" x2="708.07" y2="64.20" stroke="#d71920" stroke-width="0.8" />
<line x1="714.96" y1="63.70" x2="714.96" y2="60.70" stroke="#d71920" stroke-width="0.8" />
<line x1="713.21" y1="60.70" x2="716.71" y2="60.70" stroke="#d71920" stroke-width="0.8" />
<line x1="713.21" y1="63.70" x2="716.71" y2="63.70" stroke="#d71920" stroke-width="0.8" />
<line x1="723.60" y1="61.60" x2="723.60" y2="58.60" stroke="#d71920" stroke-width="0.8" />
<line x1="721.85" y1="58.60" x2="725.35" y2="58.60" stroke="#d71920" stroke-width="0.8" />
<line x1="721.85" y1="61.60" x2="725.35" y2="61.60" stroke="#d71920" stroke-width="0.8" />
<line x1="732.24" y1="59.60" x2="732.24" y2="56.60" stroke="#d71920" stroke-width="0.8" />
<line x1="730.49" y1="56.60" x2="733.99" y2="56.60" stroke="#d71920" stroke-width="0.8" />
<line x1="730.49" y1="59.60" x2="733.99" y2="59.60" stroke="#d71920" stroke-width="0.8" />
<line x1="740.88" y1="59.60" x2="740.88" y2="56.60" stroke="#d71920" stroke-width="0.8" />
<line x1="739.13" y1="56.60" x2="742.63" y2="56.60" stroke="#d71920" stroke-width="0.8" />
<line x1="739.13" y1="59.60" x2="742.63" y2="59.60" stroke="#d71920" stroke-width="0.8" />
<polyline points="637.20,75.00 645.84,73.40 654.48,71.60 663.12,69.60 671.76,68.30 680.40,67.10 689.04,66.00 697.68,64.30 706.32,62.70 714.96,62.20 723.60,60.10 732.24,58.10 740.88,58.10" fill="none" stroke="#d71920" stroke-width="1.25" stroke-linejoin="miter"/>
<circle cx="637.20" cy="75.00" r="1.3" fill="#d71920" stroke="#d71920" stroke-width="0.5"/>
<circle cx="645.84" cy="73.40" r="1.3" fill="#d71920" stroke="#d71920" stroke-width="0.5"/>
<circle cx="654.48" cy="71.60" r="1.3" fill="#d71920" stroke="#d71920" stroke-width="0.5"/>
<circle cx="663.12" cy="69.60" r="1.3" fill="#d71920" stroke="#d71920" stroke-width="0.5"/>
<circle cx="671.76" cy="68.30" r="1.3" fill="#d71920" stroke="#d71920" stroke-width="0.5"/>
<circle cx="680.40" cy="67.10" r="1.3" fill="#d71920" stroke="#d71920" stroke-width="0.5"/>
<circle cx="689.04" cy="66.00" r="1.3" fill="#d71920" stroke="#d71920" stroke-width="0.5"/>
<circle cx="697.68" cy="64.30" r="1.3" fill="#d71920" stroke="#d71920" stroke-width="0.5"/>
<circle cx="706.32" cy="62.70" r="1.3" fill="#d71920" stroke="#d71920" stroke-width="0.5"/>
<circle cx="714.96" cy="62.20" r="1.3" fill="#d71920" stroke="#d71920" stroke-width="0.5"/>
<circle cx="723.60" cy="60.10" r="1.3" fill="#d71920" stroke="#d71920" stroke-width="0.5"/>
<circle cx="732.24" cy="58.10" r="1.3" fill="#d71920" stroke="#d71920" stroke-width="0.5"/>
<circle cx="740.88" cy="58.10" r="1.3" fill="#d71920" stroke="#d71920" stroke-width="0.5"/>
<line x1="637.20" y1="95.80" x2="660.90" y2="95.80" stroke="#000" stroke-width="1.2" />
<circle cx="649.00" cy="95.80" r="1.4" fill="#fff" stroke="#000" stroke-width="0.7"/>
<line x1="637.20" y1="110.00" x2="660.90" y2="110.00" stroke="#d71920" stroke-width="1.25" />
<circle cx="649.00" cy="110.00" r="1.3" fill="#d71920" stroke="#d71920" stroke-width="0.5"/>
<text x="662.00" y="99.80" font-size="11.8" text-anchor="start" font-weight="normal" fill="#000">WT</text>
<text x="662.00" y="114.30" font-size="11.8" text-anchor="start" font-weight="normal" fill="#000">βUCP2Tg</text>
<text x="596.20" y="92.00" font-size="11.8" text-anchor="middle" font-weight="normal" transform="rotate(-90 596.20 92.00)" fill="#000">Body weight (g)</text>
<text x="1.60" y="203.20" font-size="10" text-anchor="start" font-weight="bold" fill="#000">E</text>
<text x="89.50" y="210.90" font-size="11.8" text-anchor="middle" font-weight="normal" fill="#000">WT</text>
<text x="166.20" y="210.90" font-size="11.8" text-anchor="middle" font-weight="normal" fill="#000">βUCP2Tg</text>
<text x="205.00" y="213.00" font-size="11.5" text-anchor="start" font-weight="normal" fill="#000">kDa</text>
<line x1="59.00" y1="216.30" x2="124.20" y2="216.30" stroke="#000" stroke-width="1.2" />
<line x1="133.00" y1="216.30" x2="199.80" y2="216.30" stroke="#000" stroke-width="1.2" />
<rect x="51.60" y="219.50" width="152.90" height="19.60" fill="#efefef" stroke="#000" stroke-width="1.2"/>
<rect x="51.60" y="242.50" width="152.90" height="18.20" fill="#f6f6f6" stroke="#000" stroke-width="1.2"/>
<text x="48.60" y="233.50" font-size="11.5" text-anchor="end" font-weight="normal" fill="#000">UCP2</text>
<text x="48.60" y="255.60" font-size="11.5" text-anchor="end" font-weight="normal" fill="#000">α-tubulin</text>
<text x="206.50" y="232.80" font-size="11.5" text-anchor="start" font-weight="normal" fill="#000">-32</text>
<text x="206.50" y="254.20" font-size="11.5" text-anchor="start" font-weight="normal" fill="#000">-50</text>
<path d="M55.00,229.40 C56.13,228.20 58.78,228.20 60.29,228.20 L70.71,228.20 C72.22,228.20 74.87,228.20 76.00,229.40 C74.87,230.60 72.22,230.60 70.71,230.60 L60.29,230.60 C58.78,230.60 56.13,230.60 55.00,229.40 Z" fill="#dcdcdc" fill-opacity="1.0" filter="url(#bl)"/>
<path d="M80.00,229.40 C81.13,228.20 83.78,228.20 85.29,228.20 L95.71,228.20 C97.22,228.20 99.87,228.20 101.00,229.40 C99.87,230.60 97.22,230.60 95.71,230.60 L85.29,230.60 C83.78,230.60 81.13,230.60 80.00,229.40 Z" fill="#dcdcdc" fill-opacity="1.0" filter="url(#bl)"/>
<path d="M105.00,229.40 C106.13,228.20 108.78,228.20 110.29,228.20 L120.71,228.20 C122.22,228.20 124.87,228.20 126.00,229.40 C124.87,230.60 122.22,230.60 120.71,230.60 L110.29,230.60 C108.78,230.60 106.13,230.60 105.00,229.40 Z" fill="#dcdcdc" fill-opacity="1.0" filter="url(#bl)"/>
<path d="M130.95,229.40 C132.06,228.10 134.64,228.10 136.12,228.10 L146.28,228.10 C147.76,228.10 150.34,228.10 151.45,229.40 C150.34,230.70 147.76,230.70 146.28,230.70 L136.12,230.70 C134.64,230.70 132.06,230.70 130.95,229.40 Z" fill="#5a5a5a" fill-opacity="1.0" filter="url(#bl)"/>
<path d="M155.55,229.40 C156.66,228.10 159.24,228.10 160.72,228.10 L170.88,228.10 C172.36,228.10 174.94,228.10 176.05,229.40 C174.94,230.70 172.36,230.70 170.88,230.70 L160.72,230.70 C159.24,230.70 156.66,230.70 155.55,229.40 Z" fill="#5a5a5a" fill-opacity="1.0" filter="url(#bl)"/>
<path d="M181.75,229.40 C182.86,228.10 185.44,228.10 186.92,228.10 L197.08,228.10 C198.56,228.10 201.14,228.10 202.25,229.40 C201.14,230.70 198.56,230.70 197.08,230.70 L186.92,230.70 C185.44,230.70 182.86,230.70 181.75,229.40 Z" fill="#5a5a5a" fill-opacity="1.0" filter="url(#bl)"/>
<path d="M54.95,252.70 C56.17,251.00 59.00,251.00 60.62,251.00 L71.78,251.00 C73.40,251.00 76.23,251.00 77.45,252.70 C76.23,254.40 73.40,254.40 71.78,254.40 L60.62,254.40 C59.00,254.40 56.17,254.40 54.95,252.70 Z" fill="#141414" fill-opacity="1.0" filter="url(#bl)"/>
<path d="M79.95,252.70 C81.17,251.00 84.00,251.00 85.62,251.00 L96.78,251.00 C98.40,251.00 101.23,251.00 102.45,252.70 C101.23,254.40 98.40,254.40 96.78,254.40 L85.62,254.40 C84.00,254.40 81.17,254.40 79.95,252.70 Z" fill="#141414" fill-opacity="1.0" filter="url(#bl)"/>
<path d="M104.55,252.70 C105.77,251.00 108.60,251.00 110.22,251.00 L121.38,251.00 C123.00,251.00 125.83,251.00 127.05,252.70 C125.83,254.40 123.00,254.40 121.38,254.40 L110.22,254.40 C108.60,254.40 105.77,254.40 104.55,252.70 Z" fill="#141414" fill-opacity="1.0" filter="url(#bl)"/>
<path d="M130.75,252.70 C131.97,251.00 134.80,251.00 136.42,251.00 L147.58,251.00 C149.20,251.00 152.03,251.00 153.25,252.70 C152.03,254.40 149.20,254.40 147.58,254.40 L136.42,254.40 C134.80,254.40 131.97,254.40 130.75,252.70 Z" fill="#141414" fill-opacity="1.0" filter="url(#bl)"/>
<path d="M154.55,252.70 C155.77,251.00 158.60,251.00 160.22,251.00 L171.38,251.00 C173.00,251.00 175.84,251.00 177.05,252.70 C175.84,254.40 173.00,254.40 171.38,254.40 L160.22,254.40 C158.60,254.40 155.77,254.40 154.55,252.70 Z" fill="#141414" fill-opacity="1.0" filter="url(#bl)"/>
<path d="M180.55,252.70 C181.77,251.00 184.60,251.00 186.22,251.00 L197.38,251.00 C199.00,251.00 201.84,251.00 203.05,252.70 C201.84,254.40 199.00,254.40 197.38,254.40 L186.22,254.40 C184.60,254.40 181.77,254.40 180.55,252.70 Z" fill="#141414" fill-opacity="1.0" filter="url(#bl)"/>
<line x1="95.50" y1="277.20" x2="95.50" y2="333.40" stroke="#000" stroke-width="1.0" />
<line x1="87.30" y1="277.20" x2="95.50" y2="277.20" stroke="#000" stroke-width="1.0" />
<text x="84.30" y="281.36" font-size="11.0" text-anchor="end" font-weight="normal" fill="#000">100</text>
<line x1="87.30" y1="288.44" x2="95.50" y2="288.44" stroke="#000" stroke-width="1.0" />
<text x="84.30" y="292.60" font-size="11.0" text-anchor="end" font-weight="normal" fill="#000">80</text>
<line x1="87.30" y1="299.68" x2="95.50" y2="299.68" stroke="#000" stroke-width="1.0" />
<text x="84.30" y="303.84" font-size="11.0" text-anchor="end" font-weight="normal" fill="#000">60</text>
<line x1="87.30" y1="310.92" x2="95.50" y2="310.92" stroke="#000" stroke-width="1.0" />
<text x="84.30" y="315.08" font-size="11.0" text-anchor="end" font-weight="normal" fill="#000">40</text>
<line x1="87.30" y1="322.16" x2="95.50" y2="322.16" stroke="#000" stroke-width="1.0" />
<text x="84.30" y="326.32" font-size="11.0" text-anchor="end" font-weight="normal" fill="#000">20</text>
<line x1="87.30" y1="333.40" x2="95.50" y2="333.40" stroke="#000" stroke-width="1.0" />
<text x="84.30" y="337.56" font-size="11.0" text-anchor="end" font-weight="normal" fill="#000">0</text>
<line x1="87.00" y1="333.40" x2="152.60" y2="333.40" stroke="#000" stroke-width="1.0" />
<rect x="131.40" y="298.60" width="13.30" height="34.80" fill="#6e6e6e" stroke="#000" stroke-width="1.0"/>
<line x1="138.00" y1="300.50" x2="138.00" y2="295.50" stroke="#000" stroke-width="1.1" />
<line x1="135.70" y1="295.50" x2="140.30" y2="295.50" stroke="#000" stroke-width="1.1" />
<line x1="135.70" y1="300.50" x2="140.30" y2="300.50" stroke="#000" stroke-width="1.1" />
<circle cx="105.10" cy="333.40" r="2.4" fill="#fff" stroke="#1a1a1a" stroke-width="0.85"/>
<circle cx="109.70" cy="333.40" r="2.4" fill="#fff" stroke="#1a1a1a" stroke-width="0.85"/>
<circle cx="114.20" cy="333.40" r="2.4" fill="#fff" stroke="#1a1a1a" stroke-width="0.85"/>
<circle cx="138.10" cy="292.90" r="2.4" fill="#fff" stroke="#1a1a1a" stroke-width="0.85"/>
<circle cx="138.10" cy="297.60" r="2.4" fill="#fff" stroke="#1a1a1a" stroke-width="0.85"/>
<circle cx="138.10" cy="303.40" r="2.4" fill="#fff" stroke="#1a1a1a" stroke-width="0.85"/>
<polyline points="109.40,325.30 109.40,288.10 138.30,288.10 138.30,291.70" fill="none" stroke="#000" stroke-width="1.0" stroke-linejoin="miter"/>
<text x="124.40" y="290.28" font-size="12" text-anchor="middle" font-weight="normal" letter-spacing="1.0" fill="#000">**</text>
<text x="44.00" y="307.30" font-size="11.5" text-anchor="middle" font-weight="normal" transform="rotate(-90 44.00 307.30)" fill="#000">Density</text>
<text x="57.80" y="306.50" font-size="11.5" text-anchor="middle" font-weight="normal" transform="rotate(-90 57.80 306.50)" fill="#000">(/α-tubulin)</text>
<rect x="152.60" y="301.50" width="11.20" height="10.90" fill="#fff" stroke="#000" stroke-width="1.0"/>
<rect x="152.60" y="316.20" width="11.20" height="10.90" fill="#6e6e6e" stroke="#000" stroke-width="1.0"/>
<text x="166.80" y="311.00" font-size="11.8" text-anchor="start" font-weight="normal" fill="#000">WT</text>
<text x="166.80" y="325.40" font-size="11.8" text-anchor="start" font-weight="normal" fill="#000">βUCP2Tg</text>
<text x="261.60" y="203.40" font-size="10" text-anchor="start" font-weight="bold" fill="#000">F</text>
<line x1="328.60" y1="231.40" x2="328.60" y2="315.30" stroke="#000" stroke-width="1.0" />
<line x1="320.40" y1="231.40" x2="328.60" y2="231.40" stroke="#000" stroke-width="1.0" />
<text x="317.40" y="235.56" font-size="11.0" text-anchor="end" font-weight="normal" fill="#000">500</text>
<line x1="320.40" y1="248.18" x2="328.60" y2="248.18" stroke="#000" stroke-width="1.0" />
<text x="317.40" y="252.34" font-size="11.0" text-anchor="end" font-weight="normal" fill="#000">400</text>
<line x1="320.40" y1="264.96" x2="328.60" y2="264.96" stroke="#000" stroke-width="1.0" />
<text x="317.40" y="269.12" font-size="11.0" text-anchor="end" font-weight="normal" fill="#000">300</text>
<line x1="320.40" y1="281.74" x2="328.60" y2="281.74" stroke="#000" stroke-width="1.0" />
<text x="317.40" y="285.90" font-size="11.0" text-anchor="end" font-weight="normal" fill="#000">200</text>
<line x1="320.40" y1="298.52" x2="328.60" y2="298.52" stroke="#000" stroke-width="1.0" />
<text x="317.40" y="302.68" font-size="11.0" text-anchor="end" font-weight="normal" fill="#000">100</text>
<line x1="320.40" y1="315.30" x2="328.60" y2="315.30" stroke="#000" stroke-width="1.0" />
<text x="317.40" y="319.46" font-size="11.0" text-anchor="end" font-weight="normal" fill="#000">0</text>
<line x1="320.40" y1="315.30" x2="441.80" y2="315.30" stroke="#000" stroke-width="1.0" />
<line x1="384.00" y1="315.30" x2="384.00" y2="324.00" stroke="#000" stroke-width="1.0" />
<rect x="337.80" y="309.50" width="16.80" height="5.80" fill="#fff" stroke="#000" stroke-width="1.0"/>
<rect x="357.90" y="304.90" width="16.80" height="10.40" fill="#6e6e6e" stroke="#000" stroke-width="1.0"/>
<rect x="395.30" y="280.30" width="17.10" height="35.00" fill="#fff" stroke="#000" stroke-width="1.0"/>
<rect x="414.80" y="282.00" width="16.90" height="33.30" fill="#6e6e6e" stroke="#000" stroke-width="1.0"/>
<line x1="346.20" y1="311.00" x2="346.20" y2="308.10" stroke="#000" stroke-width="1.1" />
<line x1="343.90" y1="308.10" x2="348.50" y2="308.10" stroke="#000" stroke-width="1.1" />
<line x1="343.90" y1="311.00" x2="348.50" y2="311.00" stroke="#000" stroke-width="1.1" />
<line x1="366.30" y1="307.00" x2="366.30" y2="302.80" stroke="#000" stroke-width="1.1" />
<line x1="364.00" y1="302.80" x2="368.60" y2="302.80" stroke="#000" stroke-width="1.1" />
<line x1="364.00" y1="307.00" x2="368.60" y2="307.00" stroke="#000" stroke-width="1.1" />
<line x1="403.80" y1="287.50" x2="403.80" y2="273.10" stroke="#000" stroke-width="1.1" />
<line x1="401.50" y1="273.10" x2="406.10" y2="273.10" stroke="#000" stroke-width="1.1" />
<line x1="401.50" y1="287.50" x2="406.10" y2="287.50" stroke="#000" stroke-width="1.1" />
<line x1="423.20" y1="287.00" x2="423.20" y2="277.10" stroke="#000" stroke-width="1.1" />
<line x1="420.90" y1="277.10" x2="425.50" y2="277.10" stroke="#000" stroke-width="1.1" />
<line x1="420.90" y1="287.00" x2="425.50" y2="287.00" stroke="#000" stroke-width="1.1" />
<circle cx="346.70" cy="300.10" r="2.4" fill="#fff" stroke="#1a1a1a" stroke-width="0.85"/>
<circle cx="340.20" cy="307.10" r="2.4" fill="#fff" stroke="#1a1a1a" stroke-width="0.85"/>
<circle cx="339.80" cy="312.40" r="2.4" fill="#fff" stroke="#1a1a1a" stroke-width="0.85"/>
<circle cx="345.50" cy="310.80" r="2.4" fill="#fff" stroke="#1a1a1a" stroke-width="0.85"/>
<circle cx="350.30" cy="312.40" r="2.4" fill="#fff" stroke="#1a1a1a" stroke-width="0.85"/>
<circle cx="353.60" cy="311.30" r="2.4" fill="#fff" stroke="#1a1a1a" stroke-width="0.85"/>
<circle cx="343.00" cy="313.00" r="2.4" fill="#fff" stroke="#1a1a1a" stroke-width="0.85"/>
<circle cx="366.40" cy="301.20" r="2.4" fill="#fff" stroke="#1a1a1a" stroke-width="0.85"/>
<circle cx="373.10" cy="299.10" r="2.4" fill="#fff" stroke="#1a1a1a" stroke-width="0.85"/>
<circle cx="360.00" cy="303.90" r="2.4" fill="#fff" stroke="#1a1a1a" stroke-width="0.85"/>
<circle cx="373.10" cy="304.40" r="2.4" fill="#fff" stroke="#1a1a1a" stroke-width="0.85"/>
<circle cx="367.00" cy="306.80" r="2.4" fill="#fff" stroke="#1a1a1a" stroke-width="0.85"/>
<circle cx="359.50" cy="313.20" r="2.4" fill="#fff" stroke="#1a1a1a" stroke-width="0.85"/>
<circle cx="372.80" cy="310.00" r="2.4" fill="#fff" stroke="#1a1a1a" stroke-width="0.85"/>
<circle cx="403.30" cy="239.10" r="2.4" fill="#fff" stroke="#1a1a1a" stroke-width="0.85"/>
<circle cx="403.30" cy="262.20" r="2.4" fill="#fff" stroke="#1a1a1a" stroke-width="0.85"/>
<circle cx="403.60" cy="284.40" r="2.4" fill="#fff" stroke="#1a1a1a" stroke-width="0.85"/>
<circle cx="397.20" cy="287.20" r="2.4" fill="#fff" stroke="#1a1a1a" stroke-width="0.85"/>
<circle cx="410.00" cy="287.20" r="2.4" fill="#fff" stroke="#1a1a1a" stroke-width="0.85"/>
<circle cx="403.60" cy="290.00" r="2.4" fill="#fff" stroke="#1a1a1a" stroke-width="0.85"/>
<circle cx="410.00" cy="294.00" r="2.4" fill="#fff" stroke="#1a1a1a" stroke-width="0.85"/>
<circle cx="397.20" cy="296.40" r="2.4" fill="#fff" stroke="#1a1a1a" stroke-width="0.85"/>
<circle cx="423.20" cy="264.30" r="2.4" fill="#fff" stroke="#1a1a1a" stroke-width="0.85"/>
<circle cx="426.40" cy="272.00" r="2.4" fill="#fff" stroke="#1a1a1a" stroke-width="0.85"/>
<circle cx="419.70" cy="275.00" r="2.4" fill="#fff" stroke="#1a1a1a" stroke-width="0.85"/>
<circle cx="430.10" cy="285.60" r="2.4" fill="#fff" stroke="#1a1a1a" stroke-width="0.85"/>
<circle cx="423.20" cy="289.20" r="2.4" fill="#fff" stroke="#1a1a1a" stroke-width="0.85"/>
<circle cx="416.40" cy="293.70" r="2.4" fill="#fff" stroke="#1a1a1a" stroke-width="0.85"/>
<circle cx="430.10" cy="292.00" r="2.4" fill="#fff" stroke="#1a1a1a" stroke-width="0.85"/>
<polyline points="347.90,293.20 347.90,285.60 366.40,285.60 366.40,293.20" fill="none" stroke="#000" stroke-width="1.0" stroke-linejoin="miter"/>
<text x="357.60" y="282.00" font-size="11.6" text-anchor="middle" font-weight="normal" fill="#000">N.S.</text>
<polyline points="403.60,233.00 403.60,228.50 423.20,228.50 423.20,256.30" fill="none" stroke="#000" stroke-width="1.0" stroke-linejoin="miter"/>
<text x="413.80" y="226.60" font-size="11.6" text-anchor="middle" font-weight="normal" fill="#000">N.S.</text>
<text x="334.30" y="331.20" font-size="11.5" text-anchor="end" font-weight="normal" letter-spacing="0.4" fill="#000">Time</text>
<text x="334.30" y="343.50" font-size="11.5" text-anchor="end" font-weight="normal" fill="#000">(min)</text>
<text x="356.80" y="331.20" font-size="11.5" text-anchor="middle" font-weight="normal" fill="#000">0</text>
<text x="413.40" y="331.20" font-size="11.5" text-anchor="middle" font-weight="normal" fill="#000">15</text>
<rect x="323.60" y="199.50" width="12.00" height="12.00" fill="#fff" stroke="#000" stroke-width="1.0"/>
<rect x="323.60" y="214.20" width="12.00" height="11.90" fill="#6e6e6e" stroke="#000" stroke-width="1.0"/>
<text x="338.30" y="210.40" font-size="11.8" text-anchor="start" font-weight="normal" fill="#000">WT</text>
<text x="338.30" y="224.30" font-size="11.8" text-anchor="start" font-weight="normal" fill="#000">βUCP2Tg</text>
<text x="289.30" y="276.40" font-size="11.8" text-anchor="middle" font-weight="normal" transform="rotate(-90 289.30 276.40)" fill="#000">Serum insulin (pmol/l)</text>
<line x1="514.00" y1="231.40" x2="514.00" y2="315.30" stroke="#000" stroke-width="1.0" />
<line x1="505.80" y1="231.40" x2="514.00" y2="231.40" stroke="#000" stroke-width="1.0" />
<text x="502.80" y="235.56" font-size="11.0" text-anchor="end" font-weight="normal" fill="#000">500</text>
<line x1="505.80" y1="248.18" x2="514.00" y2="248.18" stroke="#000" stroke-width="1.0" />
<text x="502.80" y="252.34" font-size="11.0" text-anchor="end" font-weight="normal" fill="#000">400</text>
<line x1="505.80" y1="264.96" x2="514.00" y2="264.96" stroke="#000" stroke-width="1.0" />
<text x="502.80" y="269.12" font-size="11.0" text-anchor="end" font-weight="normal" fill="#000">300</text>
<line x1="505.80" y1="281.74" x2="514.00" y2="281.74" stroke="#000" stroke-width="1.0" />
<text x="502.80" y="285.90" font-size="11.0" text-anchor="end" font-weight="normal" fill="#000">200</text>
<line x1="505.80" y1="298.52" x2="514.00" y2="298.52" stroke="#000" stroke-width="1.0" />
<text x="502.80" y="302.68" font-size="11.0" text-anchor="end" font-weight="normal" fill="#000">100</text>
<line x1="505.80" y1="315.30" x2="514.00" y2="315.30" stroke="#000" stroke-width="1.0" />
<text x="502.80" y="319.46" font-size="11.0" text-anchor="end" font-weight="normal" fill="#000">0</text>
<line x1="505.80" y1="315.30" x2="649.60" y2="315.30" stroke="#000" stroke-width="1.0" />
<line x1="558.10" y1="315.30" x2="558.10" y2="322.70" stroke="#000" stroke-width="1.0" />
<line x1="602.80" y1="315.30" x2="602.80" y2="322.70" stroke="#000" stroke-width="1.0" />
<rect x="521.30" y="301.20" width="14.30" height="14.10" fill="#fff" stroke="#000" stroke-width="1.0"/>
<rect x="537.40" y="301.30" width="13.20" height="14.00" fill="#6e6e6e" stroke="#000" stroke-width="1.0"/>
<rect x="566.10" y="287.40" width="14.10" height="27.90" fill="#fff" stroke="#000" stroke-width="1.0"/>
<rect x="582.20" y="295.70" width="13.40" height="19.60" fill="#6e6e6e" stroke="#000" stroke-width="1.0"/>
<rect x="611.10" y="284.30" width="13.50" height="31.00" fill="#fff" stroke="#000" stroke-width="1.0"/>
<rect x="627.20" y="296.20" width="13.40" height="19.10" fill="#6e6e6e" stroke="#000" stroke-width="1.0"/>
<line x1="528.30" y1="303.50" x2="528.30" y2="296.50" stroke="#000" stroke-width="1.1" />
<line x1="526.00" y1="296.50" x2="530.60" y2="296.50" stroke="#000" stroke-width="1.1" />
<line x1="526.00" y1="303.50" x2="530.60" y2="303.50" stroke="#000" stroke-width="1.1" />
<line x1="544.60" y1="303.00" x2="544.60" y2="297.50" stroke="#000" stroke-width="1.1" />
<line x1="542.30" y1="297.50" x2="546.90" y2="297.50" stroke="#000" stroke-width="1.1" />
<line x1="542.30" y1="303.00" x2="546.90" y2="303.00" stroke="#000" stroke-width="1.1" />
<line x1="573.30" y1="292.50" x2="573.30" y2="282.10" stroke="#000" stroke-width="1.1" />
<line x1="571.00" y1="282.10" x2="575.60" y2="282.10" stroke="#000" stroke-width="1.1" />
<line x1="571.00" y1="292.50" x2="575.60" y2="292.50" stroke="#000" stroke-width="1.1" />
<line x1="589.00" y1="299.00" x2="589.00" y2="292.00" stroke="#000" stroke-width="1.1" />
<line x1="586.70" y1="292.00" x2="591.30" y2="292.00" stroke="#000" stroke-width="1.1" />
<line x1="586.70" y1="299.00" x2="591.30" y2="299.00" stroke="#000" stroke-width="1.1" />
<line x1="617.80" y1="289.00" x2="617.80" y2="279.30" stroke="#000" stroke-width="1.1" />
<line x1="615.50" y1="279.30" x2="620.10" y2="279.30" stroke="#000" stroke-width="1.1" />
<line x1="615.50" y1="289.00" x2="620.10" y2="289.00" stroke="#000" stroke-width="1.1" />
<line x1="633.60" y1="298.50" x2="633.60" y2="294.00" stroke="#000" stroke-width="1.1" />
<line x1="631.30" y1="294.00" x2="635.90" y2="294.00" stroke="#000" stroke-width="1.1" />
<line x1="631.30" y1="298.50" x2="635.90" y2="298.50" stroke="#000" stroke-width="1.1" />
<circle cx="528.34" cy="279.28" r="2.4" fill="#fff" stroke="#1a1a1a" stroke-width="0.85"/>
<circle cx="528.34" cy="288.63" r="2.4" fill="#fff" stroke="#1a1a1a" stroke-width="0.85"/>
<circle cx="524.97" cy="296.12" r="2.4" fill="#fff" stroke="#1a1a1a" stroke-width="0.85"/>
<circle cx="531.52" cy="296.50" r="2.4" fill="#fff" stroke="#1a1a1a" stroke-width="0.85"/>
<circle cx="528.34" cy="298.93" r="2.4" fill="#fff" stroke="#1a1a1a" stroke-width="0.85"/>
<circle cx="524.04" cy="301.74" r="2.4" fill="#fff" stroke="#1a1a1a" stroke-width="0.85"/>
<circle cx="532.46" cy="301.74" r="2.4" fill="#fff" stroke="#1a1a1a" stroke-width="0.85"/>
<circle cx="528.72" cy="305.48" r="2.4" fill="#fff" stroke="#1a1a1a" stroke-width="0.85"/>
<circle cx="524.97" cy="307.35" r="2.4" fill="#fff" stroke="#1a1a1a" stroke-width="0.85"/>
<circle cx="532.08" cy="307.35" r="2.4" fill="#fff" stroke="#1a1a1a" stroke-width="0.85"/>
<circle cx="526.84" cy="312.03" r="2.4" fill="#fff" stroke="#1a1a1a" stroke-width="0.85"/>
<circle cx="530.59" cy="312.97" r="2.4" fill="#fff" stroke="#1a1a1a" stroke-width="0.85"/>
<circle cx="544.62" cy="281.15" r="2.4" fill="#fff" stroke="#1a1a1a" stroke-width="0.85"/>
<circle cx="543.69" cy="285.83" r="2.4" fill="#fff" stroke="#1a1a1a" stroke-width="0.85"/>
<circle cx="542.75" cy="283.02" r="2.4" fill="#fff" stroke="#1a1a1a" stroke-width="0.85"/>
<circle cx="539.95" cy="300.80" r="2.4" fill="#fff" stroke="#1a1a1a" stroke-width="0.85"/>
<circle cx="549.30" cy="300.80" r="2.4" fill="#fff" stroke="#1a1a1a" stroke-width="0.85"/>
<circle cx="544.62" cy="298.93" r="2.4" fill="#fff" stroke="#1a1a1a" stroke-width="0.85"/>
<circle cx="544.62" cy="302.67" r="2.4" fill="#fff" stroke="#1a1a1a" stroke-width="0.85"/>
<circle cx="541.82" cy="307.35" r="2.4" fill="#fff" stroke="#1a1a1a" stroke-width="0.85"/>
<circle cx="546.50" cy="307.35" r="2.4" fill="#fff" stroke="#1a1a1a" stroke-width="0.85"/>
<circle cx="543.69" cy="312.03" r="2.4" fill="#fff" stroke="#1a1a1a" stroke-width="0.85"/>
<circle cx="541.82" cy="313.90" r="2.4" fill="#fff" stroke="#1a1a1a" stroke-width="0.85"/>
<circle cx="570.27" cy="259.62" r="2.4" fill="#fff" stroke="#1a1a1a" stroke-width="0.85"/>
<circle cx="575.51" cy="260.56" r="2.4" fill="#fff" stroke="#1a1a1a" stroke-width="0.85"/>
<circle cx="573.26" cy="268.42" r="2.4" fill="#fff" stroke="#1a1a1a" stroke-width="0.85"/>
<circle cx="578.31" cy="275.16" r="2.4" fill="#fff" stroke="#1a1a1a" stroke-width="0.85"/>
<circle cx="568.02" cy="278.34" r="2.4" fill="#fff" stroke="#1a1a1a" stroke-width="0.85"/>
<circle cx="573.63" cy="281.15" r="2.4" fill="#fff" stroke="#1a1a1a" stroke-width="0.85"/>
<circle cx="569.52" cy="288.63" r="2.4" fill="#fff" stroke="#1a1a1a" stroke-width="0.85"/>
<circle cx="576.44" cy="289.57" r="2.4" fill="#fff" stroke="#1a1a1a" stroke-width="0.85"/>
<circle cx="572.70" cy="294.25" r="2.4" fill="#fff" stroke="#1a1a1a" stroke-width="0.85"/>
<circle cx="577.75" cy="295.19" r="2.4" fill="#fff" stroke="#1a1a1a" stroke-width="0.85"/>
<circle cx="568.39" cy="300.80" r="2.4" fill="#fff" stroke="#1a1a1a" stroke-width="0.85"/>
<circle cx="574.57" cy="299.86" r="2.4" fill="#fff" stroke="#1a1a1a" stroke-width="0.85"/>
<circle cx="572.70" cy="304.54" r="2.4" fill="#fff" stroke="#1a1a1a" stroke-width="0.85"/>
<circle cx="577.38" cy="301.74" r="2.4" fill="#fff" stroke="#1a1a1a" stroke-width="0.85"/>
<circle cx="575.51" cy="308.29" r="2.4" fill="#fff" stroke="#1a1a1a" stroke-width="0.85"/>
<circle cx="570.27" cy="311.47" r="2.4" fill="#fff" stroke="#1a1a1a" stroke-width="0.85"/>
<circle cx="593.85" cy="277.03" r="2.4" fill="#fff" stroke="#1a1a1a" stroke-width="0.85"/>
<circle cx="590.48" cy="278.34" r="2.4" fill="#fff" stroke="#1a1a1a" stroke-width="0.85"/>
<circle cx="585.80" cy="281.15" r="2.4" fill="#fff" stroke="#1a1a1a" stroke-width="0.85"/>
<circle cx="589.54" cy="281.15" r="2.4" fill="#fff" stroke="#1a1a1a" stroke-width="0.85"/>
<circle cx="594.22" cy="281.15" r="2.4" fill="#fff" stroke="#1a1a1a" stroke-width="0.85"/>
<circle cx="588.61" cy="289.57" r="2.4" fill="#fff" stroke="#1a1a1a" stroke-width="0.85"/>
<circle cx="584.86" cy="298.93" r="2.4" fill="#fff" stroke="#1a1a1a" stroke-width="0.85"/>
<circle cx="592.35" cy="298.93" r="2.4" fill="#fff" stroke="#1a1a1a" stroke-width="0.85"/>
<circle cx="588.61" cy="301.74" r="2.4" fill="#fff" stroke="#1a1a1a" stroke-width="0.85"/>
<circle cx="584.86" cy="306.41" r="2.4" fill="#fff" stroke="#1a1a1a" stroke-width="0.85"/>
<circle cx="593.29" cy="305.48" r="2.4" fill="#fff" stroke="#1a1a1a" stroke-width="0.85"/>
<circle cx="584.86" cy="311.09" r="2.4" fill="#fff" stroke="#1a1a1a" stroke-width="0.85"/>
<circle cx="590.48" cy="311.09" r="2.4" fill="#fff" stroke="#1a1a1a" stroke-width="0.85"/>
<circle cx="588.61" cy="307.35" r="2.4" fill="#fff" stroke="#1a1a1a" stroke-width="0.85"/>
<circle cx="617.62" cy="246.52" r="2.4" fill="#fff" stroke="#1a1a1a" stroke-width="0.85"/>
<circle cx="617.62" cy="259.06" r="2.4" fill="#fff" stroke="#1a1a1a" stroke-width="0.85"/>
<circle cx="618.18" cy="274.60" r="2.4" fill="#fff" stroke="#1a1a1a" stroke-width="0.85"/>
<circle cx="617.62" cy="279.28" r="2.4" fill="#fff" stroke="#1a1a1a" stroke-width="0.85"/>
<circle cx="617.62" cy="284.89" r="2.4" fill="#fff" stroke="#1a1a1a" stroke-width="0.85"/>
<circle cx="613.87" cy="288.63" r="2.4" fill="#fff" stroke="#1a1a1a" stroke-width="0.85"/>
<circle cx="621.36" cy="288.63" r="2.4" fill="#fff" stroke="#1a1a1a" stroke-width="0.85"/>
<circle cx="617.62" cy="291.44" r="2.4" fill="#fff" stroke="#1a1a1a" stroke-width="0.85"/>
<circle cx="613.87" cy="294.25" r="2.4" fill="#fff" stroke="#1a1a1a" stroke-width="0.85"/>
<circle cx="618.55" cy="295.19" r="2.4" fill="#fff" stroke="#1a1a1a" stroke-width="0.85"/>
<circle cx="612.94" cy="297.06" r="2.4" fill="#fff" stroke="#1a1a1a" stroke-width="0.85"/>
<circle cx="621.36" cy="297.99" r="2.4" fill="#fff" stroke="#1a1a1a" stroke-width="0.85"/>
<circle cx="615.75" cy="298.93" r="2.4" fill="#fff" stroke="#1a1a1a" stroke-width="0.85"/>
<circle cx="633.15" cy="279.28" r="2.4" fill="#fff" stroke="#1a1a1a" stroke-width="0.85"/>
<circle cx="633.15" cy="283.96" r="2.4" fill="#fff" stroke="#1a1a1a" stroke-width="0.85"/>
<circle cx="633.15" cy="286.76" r="2.4" fill="#fff" stroke="#1a1a1a" stroke-width="0.85"/>
<circle cx="629.78" cy="292.00" r="2.4" fill="#fff" stroke="#1a1a1a" stroke-width="0.85"/>
<circle cx="637.27" cy="291.44" r="2.4" fill="#fff" stroke="#1a1a1a" stroke-width="0.85"/>
<circle cx="633.53" cy="295.19" r="2.4" fill="#fff" stroke="#1a1a1a" stroke-width="0.85"/>
<circle cx="629.78" cy="298.93" r="2.4" fill="#fff" stroke="#1a1a1a" stroke-width="0.85"/>
<circle cx="638.21" cy="298.93" r="2.4" fill="#fff" stroke="#1a1a1a" stroke-width="0.85"/>
<circle cx="633.53" cy="301.74" r="2.4" fill="#fff" stroke="#1a1a1a" stroke-width="0.85"/>
<circle cx="628.85" cy="303.61" r="2.4" fill="#fff" stroke="#1a1a1a" stroke-width="0.85"/>
<circle cx="638.21" cy="303.61" r="2.4" fill="#fff" stroke="#1a1a1a" stroke-width="0.85"/>
<circle cx="634.46" cy="303.61" r="2.4" fill="#fff" stroke="#1a1a1a" stroke-width="0.85"/>
<polyline points="528.80,273.20 528.80,269.40 545.30,269.40 545.30,273.20" fill="none" stroke="#000" stroke-width="1.0" stroke-linejoin="miter"/>
<text x="538.50" y="267.00" font-size="11.6" text-anchor="middle" font-weight="normal" fill="#000">N.S.</text>
<polyline points="572.80,254.00 572.80,250.60 588.60,250.60 588.60,274.30" fill="none" stroke="#000" stroke-width="1.0" stroke-linejoin="miter"/>
<text x="581.20" y="248.40" font-size="11.6" text-anchor="middle" font-weight="normal" fill="#000">N.S.</text>
<polyline points="617.60,241.00 617.60,237.70 633.50,237.70 633.50,270.70" fill="none" stroke="#000" stroke-width="1.0" stroke-linejoin="miter"/>
<text x="625.70" y="238.08" font-size="12" text-anchor="middle" font-weight="normal" fill="#000">*</text>
<text x="513.60" y="331.50" font-size="11.5" text-anchor="end" font-weight="normal" letter-spacing="0.4" fill="#000">Time</text>
<text x="513.60" y="343.80" font-size="11.5" text-anchor="end" font-weight="normal" fill="#000">(min)</text>
<text x="536.40" y="331.50" font-size="11.5" text-anchor="middle" font-weight="normal" fill="#000">0</text>
<text x="581.60" y="331.50" font-size="11.5" text-anchor="middle" font-weight="normal" fill="#000">2</text>
<text x="627.20" y="331.50" font-size="11.5" text-anchor="middle" font-weight="normal" fill="#000">5</text>
<rect x="525.00" y="201.60" width="12.00" height="11.60" fill="#fff" stroke="#000" stroke-width="1.0"/>
<rect x="525.00" y="216.40" width="12.00" height="11.20" fill="#6e6e6e" stroke="#000" stroke-width="1.0"/>
<text x="540.20" y="210.60" font-size="11.8" text-anchor="start" font-weight="normal" fill="#000">WT</text>
<text x="540.20" y="225.00" font-size="11.8" text-anchor="start" font-weight="normal" fill="#000">βUCP2Tg</text>
<text x="476.00" y="276.40" font-size="11.8" text-anchor="middle" font-weight="normal" transform="rotate(-90 476.00 276.40)" fill="#000">Serum insulin (pmol/l)</text>
<text x="1.20" y="369.40" font-size="10" text-anchor="start" font-weight="bold" fill="#000">G</text>
<line x1="67.90" y1="382.50" x2="67.90" y2="466.90" stroke="#000" stroke-width="1.0" />
<line x1="59.70" y1="382.50" x2="67.90" y2="382.50" stroke="#000" stroke-width="1.0" />
<text x="56.70" y="386.66" font-size="11.0" text-anchor="end" font-weight="normal" fill="#000">4</text>
<line x1="59.70" y1="403.60" x2="67.90" y2="403.60" stroke="#000" stroke-width="1.0" />
<text x="56.70" y="407.76" font-size="11.0" text-anchor="end" font-weight="normal" fill="#000">3</text>
<line x1="59.70" y1="424.70" x2="67.90" y2="424.70" stroke="#000" stroke-width="1.0" />
<text x="56.70" y="428.86" font-size="11.0" text-anchor="end" font-weight="normal" fill="#000">2</text>
<line x1="59.70" y1="445.80" x2="67.90" y2="445.80" stroke="#000" stroke-width="1.0" />
<text x="56.70" y="449.96" font-size="11.0" text-anchor="end" font-weight="normal" fill="#000">1</text>
<line x1="59.70" y1="466.90" x2="67.90" y2="466.90" stroke="#000" stroke-width="1.0" />
<text x="56.70" y="471.06" font-size="11.0" text-anchor="end" font-weight="normal" fill="#000">0</text>
<line x1="59.70" y1="466.90" x2="225.80" y2="466.90" stroke="#000" stroke-width="1.0" />
<line x1="107.20" y1="466.90" x2="107.20" y2="476.50" stroke="#000" stroke-width="1.0" />
<line x1="146.50" y1="466.90" x2="146.50" y2="476.50" stroke="#000" stroke-width="1.0" />
<line x1="185.70" y1="466.90" x2="185.70" y2="476.50" stroke="#000" stroke-width="1.0" />
<rect x="73.30" y="460.00" width="11.00" height="6.90" fill="#fff" stroke="#000" stroke-width="1.0"/>
<rect x="90.20" y="460.50" width="11.10" height="6.40" fill="#6e6e6e" stroke="#000" stroke-width="1.0"/>
<rect x="112.80" y="460.00" width="11.00" height="6.90" fill="#fff" stroke="#000" stroke-width="1.0"/>
<rect x="129.80" y="460.50" width="10.80" height="6.40" fill="#6e6e6e" stroke="#000" stroke-width="1.0"/>
<rect x="152.30" y="445.00" width="10.80" height="21.90" fill="#fff" stroke="#000" stroke-width="1.0"/>
<rect x="169.30" y="452.60" width="10.90" height="14.30" fill="#6e6e6e" stroke="#000" stroke-width="1.0"/>
<rect x="191.60" y="417.20" width="11.20" height="49.70" fill="#fff" stroke="#000" stroke-width="1.0"/>
<rect x="208.90" y="430.60" width="10.90" height="36.30" fill="#6e6e6e" stroke="#000" stroke-width="1.0"/>
<line x1="78.80" y1="461.50" x2="78.80" y2="458.30" stroke="#000" stroke-width="1.1" />
<line x1="76.50" y1="458.30" x2="81.10" y2="458.30" stroke="#000" stroke-width="1.1" />
<line x1="76.50" y1="461.50" x2="81.10" y2="461.50" stroke="#000" stroke-width="1.1" />
<line x1="95.80" y1="462.00" x2="95.80" y2="459.00" stroke="#000" stroke-width="1.1" />
<line x1="93.50" y1="459.00" x2="98.10" y2="459.00" stroke="#000" stroke-width="1.1" />
<line x1="93.50" y1="462.00" x2="98.10" y2="462.00" stroke="#000" stroke-width="1.1" />
<line x1="118.30" y1="461.50" x2="118.30" y2="458.30" stroke="#000" stroke-width="1.1" />
<line x1="116.00" y1="458.30" x2="120.60" y2="458.30" stroke="#000" stroke-width="1.1" />
<line x1="116.00" y1="461.50" x2="120.60" y2="461.50" stroke="#000" stroke-width="1.1" />
<line x1="135.20" y1="462.00" x2="135.20" y2="459.00" stroke="#000" stroke-width="1.1" />
<line x1="132.90" y1="459.00" x2="137.50" y2="459.00" stroke="#000" stroke-width="1.1" />
<line x1="132.90" y1="462.00" x2="137.50" y2="462.00" stroke="#000" stroke-width="1.1" />
<line x1="157.70" y1="447.00" x2="157.70" y2="442.80" stroke="#000" stroke-width="1.1" />
<line x1="155.40" y1="442.80" x2="160.00" y2="442.80" stroke="#000" stroke-width="1.1" />
<line x1="155.40" y1="447.00" x2="160.00" y2="447.00" stroke="#000" stroke-width="1.1" />
<line x1="174.70" y1="454.00" x2="174.70" y2="451.00" stroke="#000" stroke-width="1.1" />
<line x1="172.40" y1="451.00" x2="177.00" y2="451.00" stroke="#000" stroke-width="1.1" />
<line x1="172.40" y1="454.00" x2="177.00" y2="454.00" stroke="#000" stroke-width="1.1" />
<line x1="197.20" y1="420.00" x2="197.20" y2="414.60" stroke="#000" stroke-width="1.1" />
<line x1="194.90" y1="414.60" x2="199.50" y2="414.60" stroke="#000" stroke-width="1.1" />
<line x1="194.90" y1="420.00" x2="199.50" y2="420.00" stroke="#000" stroke-width="1.1" />
<line x1="214.30" y1="431.60" x2="214.30" y2="429.60" stroke="#000" stroke-width="1.1" />
<line x1="212.00" y1="429.60" x2="216.60" y2="429.60" stroke="#000" stroke-width="1.1" />
<line x1="212.00" y1="431.60" x2="216.60" y2="431.60" stroke="#000" stroke-width="1.1" />
<circle cx="76.00" cy="459.20" r="2.4" fill="#fff" stroke="#1a1a1a" stroke-width="0.85"/>
<circle cx="79.50" cy="457.80" r="2.4" fill="#fff" stroke="#1a1a1a" stroke-width="0.85"/>
<circle cx="81.80" cy="460.30" r="2.4" fill="#fff" stroke="#1a1a1a" stroke-width="0.85"/>
<circle cx="78.50" cy="461.50" r="2.4" fill="#fff" stroke="#1a1a1a" stroke-width="0.85"/>
<circle cx="93.00" cy="460.00" r="2.4" fill="#fff" stroke="#1a1a1a" stroke-width="0.85"/>
<circle cx="96.50" cy="459.00" r="2.4" fill="#fff" stroke="#1a1a1a" stroke-width="0.85"/>
<circle cx="99.00" cy="461.00" r="2.4" fill="#fff" stroke="#1a1a1a" stroke-width="0.85"/>
<circle cx="95.50" cy="462.00" r="2.4" fill="#fff" stroke="#1a1a1a" stroke-width="0.85"/>
<circle cx="115.50" cy="459.20" r="2.4" fill="#fff" stroke="#1a1a1a" stroke-width="0.85"/>
<circle cx="118.80" cy="458.00" r="2.4" fill="#fff" stroke="#1a1a1a" stroke-width="0.85"/>
<circle cx="121.50" cy="460.00" r="2.4" fill="#fff" stroke="#1a1a1a" stroke-width="0.85"/>
<circle cx="118.00" cy="461.50" r="2.4" fill="#fff" stroke="#1a1a1a" stroke-width="0.85"/>
<circle cx="132.50" cy="460.00" r="2.4" fill="#fff" stroke="#1a1a1a" stroke-width="0.85"/>
<circle cx="136.00" cy="459.00" r="2.4" fill="#fff" stroke="#1a1a1a" stroke-width="0.85"/>
<circle cx="138.50" cy="460.80" r="2.4" fill="#fff" stroke="#1a1a1a" stroke-width="0.85"/>
<circle cx="135.00" cy="462.00" r="2.4" fill="#fff" stroke="#1a1a1a" stroke-width="0.85"/>
<circle cx="156.00" cy="439.70" r="2.4" fill="#fff" stroke="#1a1a1a" stroke-width="0.85"/>
<circle cx="154.50" cy="441.50" r="2.4" fill="#fff" stroke="#1a1a1a" stroke-width="0.85"/>
<circle cx="158.90" cy="444.50" r="2.4" fill="#fff" stroke="#1a1a1a" stroke-width="0.85"/>
<circle cx="154.90" cy="448.70" r="2.4" fill="#fff" stroke="#1a1a1a" stroke-width="0.85"/>
<circle cx="159.40" cy="448.70" r="2.4" fill="#fff" stroke="#1a1a1a" stroke-width="0.85"/>
<circle cx="157.50" cy="443.00" r="2.4" fill="#fff" stroke="#1a1a1a" stroke-width="0.85"/>
<circle cx="178.00" cy="447.50" r="2.4" fill="#fff" stroke="#1a1a1a" stroke-width="0.85"/>
<circle cx="172.90" cy="449.50" r="2.4" fill="#fff" stroke="#1a1a1a" stroke-width="0.85"/>
<circle cx="171.30" cy="452.60" r="2.4" fill="#fff" stroke="#1a1a1a" stroke-width="0.85"/>
<circle cx="178.00" cy="453.20" r="2.4" fill="#fff" stroke="#1a1a1a" stroke-width="0.85"/>
<circle cx="175.00" cy="451.00" r="2.4" fill="#fff" stroke="#1a1a1a" stroke-width="0.85"/>
<circle cx="197.40" cy="404.80" r="2.4" fill="#fff" stroke="#1a1a1a" stroke-width="0.85"/>
<circle cx="193.70" cy="415.70" r="2.4" fill="#fff" stroke="#1a1a1a" stroke-width="0.85"/>
<circle cx="200.50" cy="419.10" r="2.4" fill="#fff" stroke="#1a1a1a" stroke-width="0.85"/>
<circle cx="197.40" cy="425.00" r="2.4" fill="#fff" stroke="#1a1a1a" stroke-width="0.85"/>
<circle cx="197.40" cy="417.00" r="2.4" fill="#fff" stroke="#1a1a1a" stroke-width="0.85"/>
<circle cx="211.80" cy="429.60" r="2.4" fill="#fff" stroke="#1a1a1a" stroke-width="0.85"/>
<circle cx="215.00" cy="429.30" r="2.4" fill="#fff" stroke="#1a1a1a" stroke-width="0.85"/>
<circle cx="217.70" cy="430.00" r="2.4" fill="#fff" stroke="#1a1a1a" stroke-width="0.85"/>
<circle cx="213.50" cy="430.80" r="2.4" fill="#fff" stroke="#1a1a1a" stroke-width="0.85"/>
<rect x="80.20" y="392.50" width="11.60" height="11.20" fill="#fff" stroke="#000" stroke-width="1.0"/>
<rect x="80.20" y="406.90" width="11.60" height="11.30" fill="#6e6e6e" stroke="#000" stroke-width="1.0"/>
<text x="95.20" y="402.30" font-size="11.8" text-anchor="start" font-weight="normal" fill="#000">WT</text>
<text x="95.20" y="416.70" font-size="11.8" text-anchor="start" font-weight="normal" fill="#000">βUCP2Tg</text>
<polyline points="79.60,452.30 79.60,447.20 94.20,447.20 94.20,452.30" fill="none" stroke="#000" stroke-width="1.0" stroke-linejoin="miter"/>
<text x="88.50" y="443.30" font-size="11.5" text-anchor="middle" font-weight="normal" fill="#000">N.S.</text>
<polyline points="118.70,452.30 118.70,447.20 135.40,447.20 135.40,452.30" fill="none" stroke="#000" stroke-width="1.0" stroke-linejoin="miter"/>
<text x="127.70" y="443.30" font-size="11.5" text-anchor="middle" font-weight="normal" fill="#000">N.S.</text>
<polyline points="156.90,437.70 156.90,434.00 175.00,434.00 175.00,444.50" fill="none" stroke="#000" stroke-width="1.0" stroke-linejoin="miter"/>
<text x="166.00" y="435.98" font-size="12" text-anchor="middle" font-weight="normal" fill="#000">*</text>
<polyline points="157.40,425.00 157.40,393.40 197.10,393.40 197.10,397.20" fill="none" stroke="#000" stroke-width="1.0" stroke-linejoin="miter"/>
<text x="177.30" y="395.78" font-size="12" text-anchor="middle" font-weight="normal" letter-spacing="1.0" fill="#000">**</text>
<polyline points="197.10,401.50 197.10,399.40 214.70,399.40 214.70,421.70" fill="none" stroke="#000" stroke-width="1.0" stroke-linejoin="miter"/>
<text x="204.20" y="402.48" font-size="12" text-anchor="middle" font-weight="normal" fill="#000">*</text>
<polyline points="175.50,382.80 175.50,376.60 214.30,376.60 214.30,387.40" fill="none" stroke="#000" stroke-width="1.0" stroke-linejoin="miter"/>
<text x="194.90" y="379.28" font-size="12" text-anchor="middle" font-weight="normal" letter-spacing="1.0" fill="#000">**</text>
<text x="64.60" y="481.90" font-size="11.5" text-anchor="end" font-weight="normal" fill="#000">Liraglutide</text>
<text x="87.20" y="481.90" font-size="11.5" text-anchor="middle" font-weight="normal" fill="#000">(-)</text>
<text x="124.30" y="481.90" font-size="11.5" text-anchor="middle" font-weight="normal" fill="#000">(+)</text>
<text x="165.90" y="481.90" font-size="11.5" text-anchor="middle" font-weight="normal" fill="#000">(-)</text>
<text x="203.50" y="481.90" font-size="11.5" text-anchor="middle" font-weight="normal" fill="#000">(+)</text>
<text x="73.20" y="496.90" font-size="11.5" text-anchor="end" font-weight="normal" letter-spacing="0.25" fill="#000">(100 nmol/l)</text>
<line x1="77.50" y1="494.00" x2="140.40" y2="494.00" stroke="#000" stroke-width="1.1" />
<line x1="157.00" y1="494.00" x2="215.20" y2="494.00" stroke="#000" stroke-width="1.1" />
<text x="65.60" y="510.50" font-size="11.5" text-anchor="end" font-weight="normal" fill="#000">Glucose</text>
<text x="108.20" y="510.50" font-size="11.5" text-anchor="middle" font-weight="normal" fill="#000">2.8</text>
<text x="183.20" y="510.50" font-size="11.5" text-anchor="middle" font-weight="normal" fill="#000">16.7</text>
<text x="71.00" y="524.50" font-size="11.5" text-anchor="end" font-weight="normal" letter-spacing="0.4" fill="#000">(mmol/l)</text>
<text x="24.60" y="428.80" font-size="10.9" text-anchor="middle" font-weight="normal" transform="rotate(-90 24.60 428.80)" fill="#000">Insulin secretion</text>
<text x="40.80" y="424.50" font-size="11.5" text-anchor="middle" font-weight="normal" transform="rotate(-90 40.80 424.50)" fill="#000">(pmol l<tspan dy="-4.2" font-size="8.6">-1</tspan><tspan dy="4.2"> 90 min</tspan><tspan dy="-4.2" font-size="8.6">-1</tspan><tspan dy="4.2">)</tspan></text>
<text x="260.70" y="369.50" font-size="10" text-anchor="start" font-weight="bold" fill="#000">H</text>
<text x="337.60" y="381.20" font-size="11.2" text-anchor="middle" font-weight="normal" fill="#000">Ad-LacZ</text>
<text x="410.60" y="381.20" font-size="11.2" text-anchor="middle" font-weight="normal" fill="#000">Ad-UCP2</text>
<line x1="307.00" y1="385.70" x2="366.90" y2="385.70" stroke="#000" stroke-width="1.2" />
<line x1="380.50" y1="385.70" x2="441.10" y2="385.70" stroke="#000" stroke-width="1.2" />
<rect x="300.80" y="390.20" width="151.80" height="17.00" fill="#f1f1f1" stroke="#000" stroke-width="1.2"/>
<rect x="300.80" y="409.80" width="151.80" height="18.50" fill="#f4f4f4" stroke="#000" stroke-width="1.2"/>
<text x="294.20" y="402.30" font-size="11.0" text-anchor="end" font-weight="normal" fill="#000">UCP2</text>
<text x="295.40" y="421.90" font-size="10.9" text-anchor="end" font-weight="normal" fill="#000">α-tubulin</text>
<text x="454.00" y="387.60" font-size="11.5" text-anchor="start" font-weight="normal" fill="#000">kDa</text>
<text x="454.60" y="404.40" font-size="11.5" text-anchor="start" font-weight="normal" fill="#000">-32</text>
<text x="454.60" y="422.40" font-size="11.5" text-anchor="start" font-weight="normal" fill="#000">-50</text>
<path d="M303.75,400.60 C304.80,398.70 307.26,398.70 308.66,398.70 L318.34,398.70 C319.74,398.70 322.20,398.70 323.25,400.60 C322.20,402.50 319.74,402.50 318.34,402.50 L308.66,402.50 C307.26,402.50 304.80,402.50 303.75,400.60 Z" fill="#7a7a7a" fill-opacity="1.0" filter="url(#bl)"/>
<path d="M328.45,400.60 C329.50,398.70 331.96,398.70 333.36,398.70 L343.04,398.70 C344.44,398.70 346.90,398.70 347.95,400.60 C346.90,402.50 344.44,402.50 343.04,402.50 L333.36,402.50 C331.96,402.50 329.50,402.50 328.45,400.60 Z" fill="#6a6a6a" fill-opacity="1.0" filter="url(#bl)"/>
<path d="M353.45,400.60 C354.50,398.70 356.96,398.70 358.36,398.70 L368.04,398.70 C369.44,398.70 371.90,398.70 372.95,400.60 C371.90,402.50 369.44,402.50 368.04,402.50 L358.36,402.50 C356.96,402.50 354.50,402.50 353.45,400.60 Z" fill="#4e4e4e" fill-opacity="1.0" filter="url(#bl)"/>
<path d="M378.05,400.60 C379.10,398.70 381.56,398.70 382.96,398.70 L392.64,398.70 C394.04,398.70 396.50,398.70 397.55,400.60 C396.50,402.50 394.04,402.50 392.64,402.50 L382.96,402.50 C381.56,402.50 379.10,402.50 378.05,400.60 Z" fill="#262626" fill-opacity="1.0" filter="url(#bl)"/>
<path d="M402.75,400.60 C403.80,398.70 406.26,398.70 407.66,398.70 L417.34,398.70 C418.74,398.70 421.20,398.70 422.25,400.60 C421.20,402.50 418.74,402.50 417.34,402.50 L407.66,402.50 C406.26,402.50 403.80,402.50 402.75,400.60 Z" fill="#1e1e1e" fill-opacity="1.0" filter="url(#bl)"/>
<path d="M428.95,400.60 C430.00,398.70 432.46,398.70 433.86,398.70 L443.54,398.70 C444.94,398.70 447.40,398.70 448.45,400.60 C447.40,402.50 444.94,402.50 443.54,402.50 L433.86,402.50 C432.46,402.50 430.00,402.50 428.95,400.60 Z" fill="#222" fill-opacity="1.0" filter="url(#bl)"/>
<path d="M303.55,420.20 C304.66,417.90 307.24,417.90 308.72,417.90 L318.88,417.90 C320.36,417.90 322.94,417.90 324.05,420.20 C322.94,422.50 320.36,422.50 318.88,422.50 L308.72,422.50 C307.24,422.50 304.66,422.50 303.55,420.20 Z" fill="#0a0a0a" fill-opacity="1.0" filter="url(#bl)"/>
<path d="M327.95,420.20 C329.06,417.90 331.64,417.90 333.12,417.90 L343.28,417.90 C344.76,417.90 347.34,417.90 348.45,420.20 C347.34,422.50 344.76,422.50 343.28,422.50 L333.12,422.50 C331.64,422.50 329.06,422.50 327.95,420.20 Z" fill="#0a0a0a" fill-opacity="1.0" filter="url(#bl)"/>
<path d="M352.65,420.20 C353.76,417.90 356.34,417.90 357.82,417.90 L367.98,417.90 C369.46,417.90 372.04,417.90 373.15,420.20 C372.04,422.50 369.46,422.50 367.98,422.50 L357.82,422.50 C356.34,422.50 353.76,422.50 352.65,420.20 Z" fill="#0a0a0a" fill-opacity="1.0" filter="url(#bl)"/>
<path d="M377.35,420.20 C378.46,417.90 381.04,417.90 382.52,417.90 L392.68,417.90 C394.16,417.90 396.74,417.90 397.85,420.20 C396.74,422.50 394.16,422.50 392.68,422.50 L382.52,422.50 C381.04,422.50 378.46,422.50 377.35,420.20 Z" fill="#0a0a0a" fill-opacity="1.0" filter="url(#bl)"/>
<path d="M402.25,420.20 C403.36,417.90 405.94,417.90 407.42,417.90 L417.58,417.90 C419.06,417.90 421.64,417.90 422.75,420.20 C421.64,422.50 419.06,422.50 417.58,422.50 L407.42,422.50 C405.94,422.50 403.36,422.50 402.25,420.20 Z" fill="#0a0a0a" fill-opacity="1.0" filter="url(#bl)"/>
<path d="M428.25,420.20 C429.36,417.90 431.94,417.90 433.42,417.90 L443.58,417.90 C445.06,417.90 447.64,417.90 448.75,420.20 C447.64,422.50 445.06,422.50 443.58,422.50 L433.42,422.50 C431.94,422.50 429.36,422.50 428.25,420.20 Z" fill="#0a0a0a" fill-opacity="1.0" filter="url(#bl)"/>
<line x1="357.30" y1="447.93" x2="357.30" y2="504.30" stroke="#000" stroke-width="1.0" />
<line x1="349.10" y1="447.93" x2="357.30" y2="447.93" stroke="#000" stroke-width="1.0" />
<line x1="349.10" y1="459.20" x2="357.30" y2="459.20" stroke="#000" stroke-width="1.0" />
<text x="346.80" y="463.36" font-size="11.0" text-anchor="end" font-weight="normal" fill="#000">2</text>
<line x1="349.10" y1="481.75" x2="357.30" y2="481.75" stroke="#000" stroke-width="1.0" />
<text x="346.80" y="485.91" font-size="11.0" text-anchor="end" font-weight="normal" fill="#000">1</text>
<line x1="349.10" y1="504.30" x2="357.30" y2="504.30" stroke="#000" stroke-width="1.0" />
<text x="346.80" y="508.46" font-size="11.0" text-anchor="end" font-weight="normal" fill="#000">0</text>
<line x1="349.10" y1="504.30" x2="414.00" y2="504.30" stroke="#000" stroke-width="1.0" />
<rect x="365.00" y="481.70" width="13.40" height="22.60" fill="#fff" stroke="#000" stroke-width="1.0"/>
<rect x="393.20" y="459.20" width="13.20" height="45.10" fill="#fbf41c" stroke="#000" stroke-width="1.0"/>
<line x1="372.00" y1="483.00" x2="372.00" y2="481.00" stroke="#000" stroke-width="1.1" />
<line x1="369.70" y1="481.00" x2="374.30" y2="481.00" stroke="#000" stroke-width="1.1" />
<line x1="369.70" y1="483.00" x2="374.30" y2="483.00" stroke="#000" stroke-width="1.1" />
<line x1="399.80" y1="461.50" x2="399.80" y2="455.50" stroke="#000" stroke-width="1.1" />
<line x1="397.50" y1="455.50" x2="402.10" y2="455.50" stroke="#000" stroke-width="1.1" />
<line x1="397.50" y1="461.50" x2="402.10" y2="461.50" stroke="#000" stroke-width="1.1" />
<circle cx="367.10" cy="479.10" r="2.4" fill="#fff" stroke="#1a1a1a" stroke-width="0.85"/>
<circle cx="367.10" cy="483.90" r="2.4" fill="#fff" stroke="#1a1a1a" stroke-width="0.85"/>
<circle cx="372.50" cy="482.50" r="2.4" fill="#fff" stroke="#1a1a1a" stroke-width="0.85"/>
<circle cx="376.20" cy="483.10" r="2.4" fill="#fff" stroke="#1a1a1a" stroke-width="0.85"/>
<circle cx="395.50" cy="455.50" r="2.4" fill="#fff" stroke="#1a1a1a" stroke-width="0.85"/>
<circle cx="404.60" cy="455.50" r="2.4" fill="#fff" stroke="#1a1a1a" stroke-width="0.85"/>
<circle cx="399.80" cy="464.70" r="2.4" fill="#fff" stroke="#1a1a1a" stroke-width="0.85"/>
<polyline points="371.50,473.00 371.50,447.00 399.70,447.00 399.70,452.20" fill="none" stroke="#000" stroke-width="1.0" stroke-linejoin="miter"/>
<text x="385.90" y="448.68" font-size="12" text-anchor="middle" font-weight="normal" letter-spacing="1.0" fill="#000">**</text>
<rect x="413.30" y="473.00" width="11.20" height="11.60" fill="#fff" stroke="#000" stroke-width="1.0"/>
<rect x="413.30" y="488.00" width="11.20" height="11.80" fill="#fbf41c" stroke="#000" stroke-width="1.0"/>
<text x="427.10" y="483.00" font-size="11.6" text-anchor="start" font-weight="normal" fill="#000">Ad-LacZ</text>
<text x="427.10" y="497.10" font-size="11.6" text-anchor="start" font-weight="normal" fill="#000">Ad-Ucp2</text>
<text x="317.30" y="478.90" font-size="11.5" text-anchor="middle" font-weight="normal" transform="rotate(-90 317.30 478.90)" fill="#000">Density</text>
<text x="329.30" y="477.60" font-size="11.5" text-anchor="middle" font-weight="normal" transform="rotate(-90 329.30 477.60)" fill="#000">(/α-tubulin)</text>
<text x="523.20" y="369.20" font-size="10" text-anchor="start" font-weight="bold" fill="#000">I</text>
<line x1="584.30" y1="405.80" x2="584.30" y2="490.60" stroke="#000" stroke-width="1.0" />
<line x1="576.10" y1="405.80" x2="584.30" y2="405.80" stroke="#000" stroke-width="1.0" />
<text x="573.10" y="409.96" font-size="11.0" text-anchor="end" font-weight="normal" fill="#000">20</text>
<line x1="576.10" y1="427.00" x2="584.30" y2="427.00" stroke="#000" stroke-width="1.0" />
<text x="573.10" y="431.16" font-size="11.0" text-anchor="end" font-weight="normal" fill="#000">15</text>
<line x1="576.10" y1="448.20" x2="584.30" y2="448.20" stroke="#000" stroke-width="1.0" />
<text x="573.10" y="452.36" font-size="11.0" text-anchor="end" font-weight="normal" fill="#000">10</text>
<line x1="576.10" y1="469.40" x2="584.30" y2="469.40" stroke="#000" stroke-width="1.0" />
<text x="573.10" y="473.56" font-size="11.0" text-anchor="end" font-weight="normal" fill="#000">5</text>
<line x1="576.10" y1="490.60" x2="584.30" y2="490.60" stroke="#000" stroke-width="1.0" />
<text x="573.10" y="494.76" font-size="11.0" text-anchor="end" font-weight="normal" fill="#000">0</text>
<line x1="576.10" y1="490.60" x2="651.20" y2="490.60" stroke="#000" stroke-width="1.0" />
<line x1="620.50" y1="490.60" x2="620.50" y2="499.40" stroke="#000" stroke-width="1.0" />
<rect x="593.40" y="456.60" width="8.00" height="34.00" fill="#fff" stroke="#000" stroke-width="1.0"/>
<rect x="607.40" y="469.40" width="7.90" height="21.20" fill="#fbf41c" stroke="#000" stroke-width="1.0"/>
<rect x="625.30" y="431.70" width="8.80" height="58.90" fill="#fff" stroke="#000" stroke-width="1.0"/>
<rect x="638.80" y="450.90" width="8.40" height="39.70" fill="#fbf41c" stroke="#000" stroke-width="1.0"/>
<line x1="597.40" y1="458.50" x2="597.40" y2="453.00" stroke="#000" stroke-width="1.1" />
<line x1="595.10" y1="453.00" x2="599.70" y2="453.00" stroke="#000" stroke-width="1.1" />
<line x1="595.10" y1="458.50" x2="599.70" y2="458.50" stroke="#000" stroke-width="1.1" />
<line x1="611.30" y1="470.00" x2="611.30" y2="467.20" stroke="#000" stroke-width="1.1" />
<line x1="609.00" y1="467.20" x2="613.60" y2="467.20" stroke="#000" stroke-width="1.1" />
<line x1="609.00" y1="470.00" x2="613.60" y2="470.00" stroke="#000" stroke-width="1.1" />
<line x1="629.40" y1="435.30" x2="629.40" y2="426.50" stroke="#000" stroke-width="1.1" />
<line x1="627.10" y1="426.50" x2="631.70" y2="426.50" stroke="#000" stroke-width="1.1" />
<line x1="627.10" y1="435.30" x2="631.70" y2="435.30" stroke="#000" stroke-width="1.1" />
<line x1="643.00" y1="453.50" x2="643.00" y2="447.50" stroke="#000" stroke-width="1.1" />
<line x1="640.70" y1="447.50" x2="645.30" y2="447.50" stroke="#000" stroke-width="1.1" />
<line x1="640.70" y1="453.50" x2="645.30" y2="453.50" stroke="#000" stroke-width="1.1" />
<circle cx="595.50" cy="452.80" r="2.4" fill="#fff" stroke="#1a1a1a" stroke-width="0.85"/>
<circle cx="599.50" cy="453.50" r="2.4" fill="#fff" stroke="#1a1a1a" stroke-width="0.85"/>
<circle cx="597.00" cy="456.50" r="2.4" fill="#fff" stroke="#1a1a1a" stroke-width="0.85"/>
<circle cx="598.50" cy="461.00" r="2.4" fill="#fff" stroke="#1a1a1a" stroke-width="0.85"/>
<circle cx="609.00" cy="467.50" r="2.4" fill="#fff" stroke="#1a1a1a" stroke-width="0.85"/>
<circle cx="613.00" cy="467.00" r="2.4" fill="#fff" stroke="#1a1a1a" stroke-width="0.85"/>
<circle cx="611.30" cy="469.50" r="2.4" fill="#fff" stroke="#1a1a1a" stroke-width="0.85"/>
<circle cx="627.00" cy="425.40" r="2.4" fill="#fff" stroke="#1a1a1a" stroke-width="0.85"/>
<circle cx="632.10" cy="426.80" r="2.4" fill="#fff" stroke="#1a1a1a" stroke-width="0.85"/>
<circle cx="629.50" cy="428.50" r="2.4" fill="#fff" stroke="#1a1a1a" stroke-width="0.85"/>
<circle cx="629.20" cy="443.00" r="2.4" fill="#fff" stroke="#1a1a1a" stroke-width="0.85"/>
<circle cx="642.50" cy="440.00" r="2.4" fill="#fff" stroke="#1a1a1a" stroke-width="0.85"/>
<circle cx="640.50" cy="448.50" r="2.4" fill="#fff" stroke="#1a1a1a" stroke-width="0.85"/>
<circle cx="645.50" cy="450.50" r="2.4" fill="#fff" stroke="#1a1a1a" stroke-width="0.85"/>
<circle cx="641.00" cy="455.50" r="2.4" fill="#fff" stroke="#1a1a1a" stroke-width="0.85"/>
<circle cx="645.50" cy="455.00" r="2.4" fill="#fff" stroke="#1a1a1a" stroke-width="0.85"/>
<polyline points="599.00,449.60 599.00,444.90 612.50,444.90 612.50,463.50" fill="none" stroke="#000" stroke-width="1.0" stroke-linejoin="miter"/>
<text x="606.00" y="447.28" font-size="12" text-anchor="middle" font-weight="normal" fill="#000">*</text>
<polyline points="630.50,420.30 630.50,417.40 644.20,417.40 644.20,435.00" fill="none" stroke="#000" stroke-width="1.0" stroke-linejoin="miter"/>
<text x="637.50" y="419.18" font-size="12" text-anchor="middle" font-weight="normal" letter-spacing="1.0" fill="#000">**</text>
<text x="590.60" y="504.60" font-size="11.5" text-anchor="end" font-weight="normal" fill="#000">Glucose (mmol/l)</text>
<text x="605.00" y="504.60" font-size="11.5" text-anchor="middle" font-weight="normal" fill="#000">2.8</text>
<text x="638.00" y="504.60" font-size="11.5" text-anchor="middle" font-weight="normal" fill="#000">16.7</text>
<rect x="656.40" y="459.60" width="11.90" height="10.70" fill="#fff" stroke="#000" stroke-width="1.0"/>
<rect x="656.40" y="473.60" width="11.90" height="11.00" fill="#fbf41c" stroke="#000" stroke-width="1.0"/>
<text x="671.00" y="469.50" font-size="11.6" text-anchor="start" font-weight="normal" fill="#000">Ad-LacZ</text>
<text x="671.00" y="483.90" font-size="11.6" text-anchor="start" font-weight="normal" fill="#000">Ad-Ucp2</text>
<text x="533.20" y="450.90" font-size="11.3" text-anchor="middle" font-weight="normal" transform="rotate(-90 533.20 450.90)" fill="#000">Insulin secretion</text>
<text x="550.00" y="448.50" font-size="11.6" text-anchor="middle" font-weight="normal" transform="rotate(-90 550.00 448.50)" fill="#000">(pmol l<tspan dy="-4.2" font-size="8.6">-1</tspan><tspan dy="4.2"> 90min</tspan><tspan dy="-4.2" font-size="8.6">-1</tspan><tspan dy="4.2">)</tspan></text>
<text x="1.00" y="565.60" font-size="10" text-anchor="start" font-weight="bold" fill="#000">J</text>
<line x1="70.00" y1="593.80" x2="70.00" y2="662.00" stroke="#000" stroke-width="1.0" />
<line x1="61.80" y1="593.80" x2="70.00" y2="593.80" stroke="#000" stroke-width="1.0" />
<text x="58.80" y="597.96" font-size="11.0" text-anchor="end" font-weight="normal" fill="#000">5</text>
<line x1="61.80" y1="607.44" x2="70.00" y2="607.44" stroke="#000" stroke-width="1.0" />
<text x="58.80" y="611.60" font-size="11.0" text-anchor="end" font-weight="normal" fill="#000">4</text>
<line x1="61.80" y1="621.08" x2="70.00" y2="621.08" stroke="#000" stroke-width="1.0" />
<text x="58.80" y="625.24" font-size="11.0" text-anchor="end" font-weight="normal" fill="#000">3</text>
<line x1="61.80" y1="634.72" x2="70.00" y2="634.72" stroke="#000" stroke-width="1.0" />
<text x="58.80" y="638.88" font-size="11.0" text-anchor="end" font-weight="normal" fill="#000">2</text>
<line x1="61.80" y1="648.36" x2="70.00" y2="648.36" stroke="#000" stroke-width="1.0" />
<text x="58.80" y="652.52" font-size="11.0" text-anchor="end" font-weight="normal" fill="#000">1</text>
<line x1="61.80" y1="662.00" x2="70.00" y2="662.00" stroke="#000" stroke-width="1.0" />
<text x="58.80" y="666.16" font-size="11.0" text-anchor="end" font-weight="normal" fill="#000">0</text>
<line x1="61.80" y1="662.00" x2="159.90" y2="662.00" stroke="#000" stroke-width="1.0" />
<rect x="82.10" y="648.30" width="11.50" height="13.70" fill="#fff" stroke="#000" stroke-width="1.0"/>
<rect x="100.30" y="650.50" width="11.50" height="11.50" fill="#fbf41c" stroke="#000" stroke-width="1.0"/>
<rect x="124.30" y="634.00" width="12.10" height="28.00" fill="#fff" stroke="#000" stroke-width="1.0"/>
<rect x="143.00" y="643.30" width="11.50" height="18.70" fill="#fbf41c" stroke="#000" stroke-width="1.0"/>
<line x1="106.00" y1="653.00" x2="106.00" y2="646.50" stroke="#000" stroke-width="1.1" />
<line x1="103.70" y1="646.50" x2="108.30" y2="646.50" stroke="#000" stroke-width="1.1" />
<line x1="103.70" y1="653.00" x2="108.30" y2="653.00" stroke="#000" stroke-width="1.1" />
<line x1="130.40" y1="638.50" x2="130.40" y2="629.50" stroke="#000" stroke-width="1.1" />
<line x1="128.10" y1="629.50" x2="132.70" y2="629.50" stroke="#000" stroke-width="1.1" />
<line x1="128.10" y1="638.50" x2="132.70" y2="638.50" stroke="#000" stroke-width="1.1" />
<line x1="148.80" y1="646.00" x2="148.80" y2="640.00" stroke="#000" stroke-width="1.1" />
<line x1="146.50" y1="640.00" x2="151.10" y2="640.00" stroke="#000" stroke-width="1.1" />
<line x1="146.50" y1="646.00" x2="151.10" y2="646.00" stroke="#000" stroke-width="1.1" />
<circle cx="84.20" cy="648.30" r="2.4" fill="#fff" stroke="#1a1a1a" stroke-width="0.85"/>
<circle cx="88.20" cy="648.30" r="2.4" fill="#fff" stroke="#1a1a1a" stroke-width="0.85"/>
<circle cx="92.20" cy="648.30" r="2.4" fill="#fff" stroke="#1a1a1a" stroke-width="0.85"/>
<circle cx="106.40" cy="637.40" r="2.4" fill="#fff" stroke="#1a1a1a" stroke-width="0.85"/>
<circle cx="102.90" cy="648.60" r="2.4" fill="#fff" stroke="#1a1a1a" stroke-width="0.85"/>
<circle cx="110.20" cy="648.60" r="2.4" fill="#fff" stroke="#1a1a1a" stroke-width="0.85"/>
<circle cx="101.60" cy="652.60" r="2.4" fill="#fff" stroke="#1a1a1a" stroke-width="0.85"/>
<circle cx="109.10" cy="654.00" r="2.4" fill="#fff" stroke="#1a1a1a" stroke-width="0.85"/>
<circle cx="105.60" cy="656.00" r="2.4" fill="#fff" stroke="#1a1a1a" stroke-width="0.85"/>
<circle cx="130.20" cy="620.60" r="2.4" fill="#fff" stroke="#1a1a1a" stroke-width="0.85"/>
<circle cx="125.70" cy="630.70" r="2.4" fill="#fff" stroke="#1a1a1a" stroke-width="0.85"/>
<circle cx="134.50" cy="630.70" r="2.4" fill="#fff" stroke="#1a1a1a" stroke-width="0.85"/>
<circle cx="127.00" cy="639.30" r="2.4" fill="#fff" stroke="#1a1a1a" stroke-width="0.85"/>
<circle cx="133.70" cy="642.00" r="2.4" fill="#fff" stroke="#1a1a1a" stroke-width="0.85"/>
<circle cx="130.40" cy="636.00" r="2.4" fill="#fff" stroke="#1a1a1a" stroke-width="0.85"/>
<circle cx="144.40" cy="638.70" r="2.4" fill="#fff" stroke="#1a1a1a" stroke-width="0.85"/>
<circle cx="151.90" cy="641.40" r="2.4" fill="#fff" stroke="#1a1a1a" stroke-width="0.85"/>
<circle cx="146.50" cy="644.10" r="2.4" fill="#fff" stroke="#1a1a1a" stroke-width="0.85"/>
<circle cx="152.40" cy="648.60" r="2.4" fill="#fff" stroke="#1a1a1a" stroke-width="0.85"/>
<circle cx="144.40" cy="650.00" r="2.4" fill="#fff" stroke="#1a1a1a" stroke-width="0.85"/>
<circle cx="149.00" cy="646.00" r="2.4" fill="#fff" stroke="#1a1a1a" stroke-width="0.85"/>
<polyline points="87.70,611.20 87.70,574.30 130.50,574.30 130.50,576.40" fill="none" stroke="#000" stroke-width="1.0" stroke-linejoin="miter"/>
<text x="110.00" y="575.48" font-size="12" text-anchor="middle" font-weight="normal" fill="#000">*</text>
<polyline points="105.60,615.20 105.60,590.60 147.90,590.60 147.90,595.20" fill="none" stroke="#000" stroke-width="1.0" stroke-linejoin="miter"/>
<text x="128.60" y="588.40" font-size="11.8" text-anchor="middle" font-weight="normal" fill="#000">N.S.</text>
<polyline points="130.50,615.20 130.50,611.70 147.90,611.70 147.90,635.30" fill="none" stroke="#000" stroke-width="1.0" stroke-linejoin="miter"/>
<text x="136.80" y="608.60" font-size="11.8" text-anchor="middle" font-weight="normal" fill="#000">p=0.0718</text>
<polyline points="87.70,638.00 87.70,630.00 106.10,630.00 106.10,638.00" fill="none" stroke="#000" stroke-width="1.0" stroke-linejoin="miter"/>
<text x="97.30" y="628.40" font-size="11.8" text-anchor="middle" font-weight="normal" fill="#000">N.S.</text>
<text x="78.60" y="677.80" font-size="11.8" text-anchor="end" font-weight="normal" fill="#000">Glucose</text>
<text x="96.00" y="677.80" font-size="11.8" text-anchor="middle" font-weight="normal" fill="#000">2.8</text>
<text x="138.80" y="677.80" font-size="11.8" text-anchor="middle" font-weight="normal" fill="#000">16.7</text>
<text x="83.80" y="691.60" font-size="11.6" text-anchor="end" font-weight="normal" letter-spacing="0.45" fill="#000">(mmol/l)</text>
<rect x="90.90" y="683.00" width="10.70" height="11.00" fill="#fff" stroke="#000" stroke-width="1.0"/>
<rect x="90.90" y="697.00" width="10.70" height="11.20" fill="#fbf41c" stroke="#000" stroke-width="1.0"/>
<text x="105.60" y="693.40" font-size="11.8" text-anchor="start" font-weight="normal" fill="#000">Ad-LacZ</text>
<text x="105.60" y="707.00" font-size="11.8" text-anchor="start" font-weight="normal" fill="#000">Ad-Ucp2</text>
<text x="30.00" y="630.00" font-size="11.8" text-anchor="middle" font-weight="normal" transform="rotate(-90 30.00 630.00)" fill="#000">Insulin secretion</text>
<text x="43.40" y="628.60" font-size="11.8" text-anchor="middle" font-weight="normal" transform="rotate(-90 43.40 628.60)" fill="#000">(A.U.)</text>
<text x="198.20" y="565.60" font-size="10" text-anchor="start" font-weight="bold" fill="#000">K</text>
<line x1="245.80" y1="589.80" x2="245.80" y2="674.00" stroke="#000" stroke-width="1.0" />
<line x1="237.60" y1="589.80" x2="245.80" y2="589.80" stroke="#000" stroke-width="1.0" />
<text x="234.60" y="593.96" font-size="11.0" text-anchor="end" font-weight="normal" fill="#000">1.2</text>
<line x1="237.60" y1="617.87" x2="245.80" y2="617.87" stroke="#000" stroke-width="1.0" />
<text x="234.60" y="622.03" font-size="11.0" text-anchor="end" font-weight="normal" fill="#000">0.8</text>
<line x1="237.60" y1="645.93" x2="245.80" y2="645.93" stroke="#000" stroke-width="1.0" />
<text x="234.60" y="650.09" font-size="11.0" text-anchor="end" font-weight="normal" fill="#000">0.4</text>
<line x1="237.60" y1="674.00" x2="245.80" y2="674.00" stroke="#000" stroke-width="1.0" />
<text x="234.60" y="678.16" font-size="11.0" text-anchor="end" font-weight="normal" fill="#000">0</text>
<line x1="237.60" y1="674.00" x2="331.40" y2="674.00" stroke="#000" stroke-width="1.0" />
<line x1="252.50" y1="674.00" x2="252.50" y2="682.50" stroke="#000" stroke-width="1.0" />
<text x="252.50" y="696.60" font-size="11.8" text-anchor="middle" font-weight="normal" fill="#000">0</text>
<line x1="272.08" y1="674.00" x2="272.08" y2="682.50" stroke="#000" stroke-width="1.0" />
<text x="272.08" y="696.60" font-size="11.8" text-anchor="middle" font-weight="normal" fill="#000">30</text>
<line x1="291.66" y1="674.00" x2="291.66" y2="682.50" stroke="#000" stroke-width="1.0" />
<text x="291.66" y="696.60" font-size="11.8" text-anchor="middle" font-weight="normal" fill="#000">60</text>
<line x1="311.24" y1="674.00" x2="311.24" y2="682.50" stroke="#000" stroke-width="1.0" />
<text x="311.24" y="696.60" font-size="11.8" text-anchor="middle" font-weight="normal" fill="#000">90</text>
<line x1="330.82" y1="674.00" x2="330.82" y2="682.50" stroke="#000" stroke-width="1.0" />
<text x="330.82" y="696.60" font-size="11.8" text-anchor="middle" font-weight="normal" fill="#000">120</text>
<text x="244.80" y="690.00" font-size="11.5" text-anchor="end" font-weight="normal" letter-spacing="0.6" fill="#000">Time</text>
<text x="244.80" y="704.00" font-size="11.5" text-anchor="end" font-weight="normal" fill="#000">(min)</text>
<line x1="270.70" y1="621.40" x2="330.80" y2="621.40" stroke="#000" stroke-width="1.2" />
<text x="300.20" y="618.00" font-size="11.6" text-anchor="middle" font-weight="normal" fill="#000">N.S.</text>
<line x1="272.08" y1="638.80" x2="272.08" y2="634.40" stroke="#333" stroke-width="0.9" />
<line x1="270.18" y1="634.40" x2="273.98" y2="634.40" stroke="#333" stroke-width="0.9" />
<line x1="270.18" y1="638.80" x2="273.98" y2="638.80" stroke="#333" stroke-width="0.9" />
<line x1="291.66" y1="641.00" x2="291.66" y2="636.30" stroke="#333" stroke-width="0.9" />
<line x1="289.76" y1="636.30" x2="293.56" y2="636.30" stroke="#333" stroke-width="0.9" />
<line x1="289.76" y1="641.00" x2="293.56" y2="641.00" stroke="#333" stroke-width="0.9" />
<line x1="311.24" y1="638.80" x2="311.24" y2="633.50" stroke="#333" stroke-width="0.9" />
<line x1="309.34" y1="633.50" x2="313.14" y2="633.50" stroke="#333" stroke-width="0.9" />
<line x1="309.34" y1="638.80" x2="313.14" y2="638.80" stroke="#333" stroke-width="0.9" />
<line x1="330.82" y1="633.50" x2="330.82" y2="629.50" stroke="#333" stroke-width="0.9" />
<line x1="328.92" y1="629.50" x2="332.72" y2="629.50" stroke="#333" stroke-width="0.9" />
<line x1="328.92" y1="633.50" x2="332.72" y2="633.50" stroke="#333" stroke-width="0.9" />
<line x1="272.08" y1="638.80" x2="272.08" y2="630.30" stroke="#d71920" stroke-width="0.9" />
<line x1="270.18" y1="630.30" x2="273.98" y2="630.30" stroke="#d71920" stroke-width="0.9" />
<line x1="270.18" y1="638.80" x2="273.98" y2="638.80" stroke="#d71920" stroke-width="0.9" />
<line x1="291.66" y1="641.00" x2="291.66" y2="629.00" stroke="#d71920" stroke-width="0.9" />
<line x1="289.76" y1="629.00" x2="293.56" y2="629.00" stroke="#d71920" stroke-width="0.9" />
<line x1="289.76" y1="641.00" x2="293.56" y2="641.00" stroke="#d71920" stroke-width="0.9" />
<line x1="311.24" y1="638.80" x2="311.24" y2="626.10" stroke="#d71920" stroke-width="0.9" />
<line x1="309.34" y1="626.10" x2="313.14" y2="626.10" stroke="#d71920" stroke-width="0.9" />
<line x1="309.34" y1="638.80" x2="313.14" y2="638.80" stroke="#d71920" stroke-width="0.9" />
<line x1="330.82" y1="634.60" x2="330.82" y2="627.80" stroke="#d71920" stroke-width="0.9" />
<line x1="328.92" y1="627.80" x2="332.72" y2="627.80" stroke="#d71920" stroke-width="0.9" />
<line x1="328.92" y1="634.60" x2="332.72" y2="634.60" stroke="#d71920" stroke-width="0.9" />
<polyline points="252.50,603.90 272.08,633.10 291.66,634.60 311.24,632.20 330.82,631.20" fill="none" stroke="#d71920" stroke-width="1.25" stroke-linejoin="miter"/>
<polyline points="252.50,603.90 272.08,636.30 291.66,637.90 311.24,635.90 330.82,631.40" fill="none" stroke="#000" stroke-width="1.4" stroke-linejoin="miter"/>
<circle cx="252.50" cy="603.90" r="1.5" fill="#fff" stroke="#000" stroke-width="0.9"/>
<circle cx="272.08" cy="636.30" r="1.5" fill="#fff" stroke="#000" stroke-width="0.9"/>
<circle cx="291.66" cy="637.90" r="1.5" fill="#fff" stroke="#000" stroke-width="0.9"/>
<circle cx="311.24" cy="635.90" r="1.5" fill="#fff" stroke="#000" stroke-width="0.9"/>
<circle cx="330.82" cy="631.40" r="1.5" fill="#fff" stroke="#000" stroke-width="0.9"/>
<line x1="257.00" y1="579.70" x2="280.00" y2="579.70" stroke="#000" stroke-width="1.2" />
<circle cx="268.50" cy="579.70" r="1.4" fill="#fff" stroke="#000" stroke-width="0.7"/>
<line x1="257.00" y1="593.00" x2="280.00" y2="593.00" stroke="#d71920" stroke-width="1.25" />
<circle cx="268.50" cy="593.00" r="1.3" fill="#d71920" stroke="#d71920" stroke-width="0.5"/>
<text x="281.90" y="584.00" font-size="11.8" text-anchor="start" font-weight="normal" fill="#000">WT</text>
<text x="281.90" y="597.80" font-size="11.8" text-anchor="start" font-weight="normal" fill="#000">βUCP2Tg</text>
<text x="211.40" y="634.50" font-size="11.5" text-anchor="middle" font-weight="normal" transform="rotate(-90 211.40 634.50)" fill="#000">Glucose fold change</text>
</svg>
</body></html>
